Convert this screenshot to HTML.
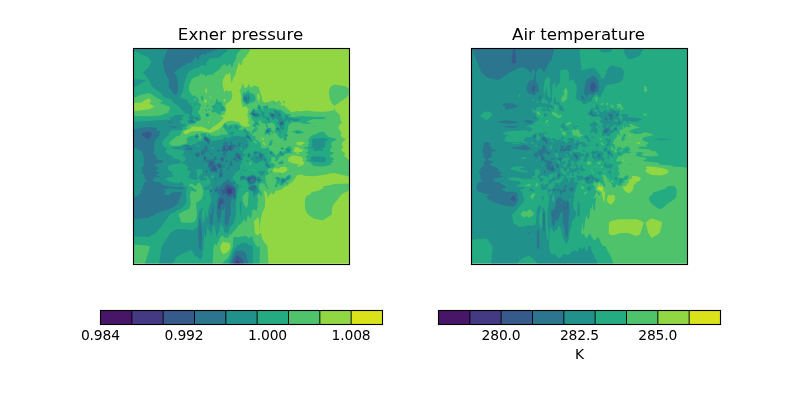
<!DOCTYPE html>
<html><head><meta charset="utf-8"><title>Exner pressure / Air temperature</title>
<style>html,body{margin:0;padding:0;background:#fff}svg{display:block}</style></head>
<body>
<svg width="800" height="400" viewBox="0 0 800 400" font-family="'DejaVu Sans', 'Liberation Sans', sans-serif" fill="#000">
<rect width="800" height="400" fill="#fff"/>
<g>
<rect x="133.5" y="48.5" width="216" height="216" fill="#443983"/>
<path fill="#375a8c" fill-rule="evenodd" d="M148.7 48.5l200.8 0 0 216-108.9 0-2.1-3.1-1-.8-1 .5-1.7 3.4-101.3 0 0-216zM227.4 188.5l-.2 1 0 1 .8 2.3 .5 .8 1 .7 1-.3 1-1.2 .3-1.3 .1-1-.4-1.4-1-.7-1 .4-1-.6-1 .2z"/>
<path fill="#2b758e" fill-rule="evenodd" d="M148.7 48.5l200.8 0 0 216-105.3 0-.7-2.2-2-4-3-2.2-1-.5-1 .5-1 1.6-1 1.8-2 5-99 0 0-216zM252.4 113.5l2 2 2 0-.9-.2-2-2-1 0zM271.4 114.5l.1 .8 1 .9 1-.6 0-.6-1 .1-.4-.6-.6-.1zM281.3 122.5l-.9 1 .1 1.1 .9-.1 1.2-1 0-1-1.1-.2zM145 132.5l-2.5 1-.7 1 .5 1 2.5 2 1.9 1 2 .3 .5-.3 .8-1 1.4-2 .5-1-.2-1-1.1-1-1.9-1zM247.2 136.5l.3 .1 .2-.1-.2-.1zM204.5 137.5l0 1.3 1 .5 .9 1.2 2.1 2.1 0-2.3-3-2.9zM225.3 143.5l.2 .2 .2-.2-.2-.2zM230.4 145.5l-1.9 1.8-.4 1.2 .4 .6 1-.2 1 .9 1 .2 .5-.5-.3-1-.9-1 .7-.7 1.2-.3-.2-.5-.5-.5-1.5-.1zM224.1 146.5l-.6 .6-.1 .4 .1 .4 .6 .6-.8 1-.2 1 1.7 0-.1-3 1-1-.2-.2-1 .1zM190.6 148.5l.5 .2 .2-.2-.2-.1zM205.4 148.5l.1 .1 .2-.1-.2-.2zM226.4 149.5l-.2 1 1.3 .1 .6-1.1-.6-.4-1 .3zM202.3 153.5l0 1 .2 .1 .2-1.1-.2-.2zM270.5 153.5l.2 0-.2-.5zM196.4 154.5l.1 .6 .5 .4 .5 .1 .1-.1 .2-1-1.3-.2zM236.4 154.5l-.1 1 .9 0 .3-.3 .2-.7-.2-.3-1 0zM260.5 155.5l-.1 1 .1 .2 .2-.2 0-1-.2 0zM204.4 156.5l0 3 .1 .1 .2-.1 .9-1-.1-.8-1-1.3zM238 156.5l-.5 .6-.1 .4 1.1 1.1 1-.9 .2-1.2-.2-.5-1 .3zM222.2 157.5l-.7 .7-.1 1.3 1.1 1.2 .2-2.2-.2-1.1zM209.7 161.5l-.2 .2-.2 2.8-.2 1 .4 .5 1-.4 1.8 1.9 0 1-1 1 0 1 .2 .1 1-.9 1 1 1 .1 1-.2 1 .3 0-2.1-1-1.6-.7-.7-.1-1-.2-.1-1 1-.9-.9-.1-.3-2 .1-.7-.8 .7-.7 1-.1 1 .2 1.2-.4-.3-1-.9-.2-1-.9-1 0zM218.4 163.5l-.2 2 .3 1-.1 1 2.1 .1 .1-.1-.1-2.2-2-1.9zM230.4 164.5l0 1 .3 0 .3-1-.5-.1zM206.4 171.5l.1 .1 .1-.1-.1-.1zM221.4 173.5l-.9 .6-.2 2.4 1.2 .1 .1-2.1-.1-1zM252.4 176.5l-.9 .9-2.3 .1-.7 .7-1.1 .3 0 1 1 1 0 1 1.1 1.1 .2-.1-.1-2 2.9-2.9 1 0 .8 .9 .2 1.2 1.1-.2-.8-1-.3-1.3-1 .2-1-1zM228.3 180.5l.2 .1 0-.3zM258.4 180.5l.1 .2 1.2-.2-1.2-.2zM253.2 181.5l.3 .2 1-.1 0-.3-1 .1zM227.2 184.5l-2.2 2-.8 3-.7 .7-1-.2-.5-.5-.5-.2-.4 .2 .1 1 1 1 0 1.3 .5 1.7 .8 .5 1-1.9 1 .2 1 1.7 1 1.2 1 .4 1 .2 1-.5 1-.8 1-1.7 .6 .7 .8 2.2 .6 .2 1-.1-.9-2.3 0-6-.1-.4-.8-.6-1.2-.2-2-1.5-2-.9-1-.7zM252.4 187.5l.4 0-.3 0zM251.2 188.5l.2 1 .4 0-.1-1-.2-.2zM216.2 189.5l-.7 .3-.1 .7 .1 .3 1-.3 1.2-1-.2-.3-1 .3zM219.4 189.5l-.1 1 .2 .5 .3-.5 0-1-.3-.1zM219.1 199.5l-.6 2.1-.6 6.4 .6 .7 1 .4 .5-1.1 .5-2.5 1-1.8 .9-.5 .1-.2 .1 .2 .9 .5 .2-.5-.2-4.3-1-.5-1 .2-1-.5-1 1.1zM226.4 208l.1 1.6 .1-1.6-.1-.8zM200.2 232.9l.3 1.7 .1-1.7-.1-.9z"/>
<path fill="#21918c" fill-rule="evenodd" d="M148.7 48.5l19.1 0-5 13.4 2.3 10.4 3.9 7.9-.5 6.1 3.1 4.7 3.2 3.7 1.4 .5 1.5-4.2 .6-4.7-.9-6.1-1.2-4.8-2-3.1 2-1.7 12.5-8.2 2.4 0 .9-.5 2.4-3.8 1.1-1.3 1 .3 1 2.3 1 .2 1-3.8 1-.8 2-.9 1-.1 1 .3 1 0 1-1.3 8-2.6 3-1.2 1.3-.7 130.7 0 0 216-101.2 0-1.8-9-1-2.8-1-1-2-.7-1-1.1-1 .7-1 .4-2-.5-1 .7-2 2.8-4.3 10.5-96.7 0 0-45.3 15.2-1.5 6.3-3.4 5.3-2.6 9-2.7 2.5-1 4.4-3.1 1.7-1.7 1.3-3.7 1.3-2.8-.2-2.2 1.2-1 .5-.7-.5-.5-5.3-.2-5.2 .7-1.7 2.6-6.1-.9 3-3-2.7-1 0-1 5.8-1.4 2 .4 10.2 .7 1.4-.7 1.3-1-2.7-.3-5.3 .2-6.8-.9-7.7-2-.7-1-.3-1-6.9-1-1.3-1 .9-1 .3-1 2.2-1 4.4-1-3.5-1-.8-1 2.8-1 .9-1-3.1-1-1.2-1 2.1-1 .6-1-.2-1-3.2-2 .6-1 1.2-1 6-1 .6-1-.7-1-5.8-1-.6-1 1.8-1-1.3-1-1.8-2-1.2-2-.2-1 1.6-1-.9-1-.3-1 .2-2-.1-1 .9-3-.4-1 .3-1 1.1-1 1.6-1 1.7-3 .4-1 .1-1 .3-1 .6-1-3.3-1-1.5-1 2.2-1-4.5-1-4.6-.4-5.1 .4-6.4 1-3.7 1 0-81zM244.1 97.4l.4 2.5 1 .1 1 1.7 .5-.5 .2-1.6-.5-2.2-.2-.1-1 0-1-.4zM248 97.4l-.1 2.2 .6 .5 .3-2.7-.3-1.1zM259.3 107.5l.2 .3 0-.7zM252.5 111.5l-.3 1-.5 1 .6 1 1.2 1.2 1 .5 1 .1 1-.2 1 0 .8-.6-.3-1-.5-.5-1 .1-2-.5-.7-1.1 .1-1-.4-.6-1 .6zM275.4 111.5l.6 1 .5 .4 .4-.4 .1-1-.5-.3-1 .3zM271.4 113.5l-1.3 1 .5 1 1 1 .9 1.6 2-2.4 1-.2-1-1-1-.6-1-.4-1-.1zM262.4 114.5l.1 .4 .3-.4-.3-.2zM277.9 114.5l.1 1 .5 .3 1.2-.3 .7-1-.9-.8-1 .1zM196.4 118.5l1.1 .2 .3-.2-.3-.3-1-.1zM267.3 118.5l.3 1 .9 .2 .2-.2-.2-.9-1-.3zM280.4 119.5l.1 .2 .2-.2-.2-.2zM285.6 119.5l.9 .1 .1-.1-.1-.2zM190.7 120.5l-1.1 1 1.3 1 .9 0 1.2-.4 1.1-.6-3-1.2zM281.3 120.5l-.3 1-.5 .5-.9 .5-.3 1 .9 2 .3 .3 1-.2 1-1 1-.6 .3-.5 0-1-1.3-1-1-1.2zM168.9 121.5l-1.5 1 7.5 0-5.6-1zM166 126.5l6.8 1 3.4 .1 .5-.1-.2-1-7.2-.2zM276.8 128.5l-.3 1.1 2 .3 .4-.4-.4-1-1-.5zM268.1 129.5l-.6 .6-.9 1.4 .9 1 1-.3 .6-.7-.1-2-.5-.1zM196.1 135.5l-.3 1 .7 1.4 1.1-1.4-.1-1-1-.3zM247.1 135.5l-.6 .2-.4 .8 .3 1 2.1 .4 .6 .6 .4 1 .1 0 .9-1-.5-1-1-1-.5-.8-1-.3zM286.2 135.5l.3 .1 .1-.1-.1-.3zM204 137.5l0 2 .5 .7 1 .6 1 1 1.2 .7 .8 1.7 1-.2 .4-.5-.4-.4-.3-.6 0-1 .3-2-3-2.3-1-.4-1 .2zM230.4 139.5l.2 0-.1-.1zM233.6 139.5l.9 .3 .4-.3-.4-.6zM231.3 141.5l-1.2 2-.1 1-.5 1-2-.6-.5-.4 .3-1-.2-1-.6-.5-1-.2-1 .9-1 .2-.7 .6 1 1 .1 1-.4 .2-1 0-.8 .8 1 2-1.4 1-.4 1 .8 1 .8 .5 1-.3 .2 .8-.4 1-1.3 1-.1 1 .6 .6 1-1 1 0 .6 .4-.2 2 .6 .7 .6-.7-.4-4 .4-1 .9-1 1.5-.8 2 .6 1-.2 1.7-1.6 .2-1-.2-1 .3-.2 1.1 .2-.2-1 .1-.2 1 .5 3-.2 1.4-1.1 0-1 .9-1 0-1-.3-.3-1 .5-1.4 1.8-.1 1-.5 .8-1-.2-2-1.8-2 .5-1.3-.3 .8-1 0-1-.2-1-.3-.2zM245.8 144.5l-.1 1 .8 .4 .9-.4-.9-1.8zM185.2 145.5l-.4 1 .8 .3 3.1 .6 .7-.9-.7-1-3.1-.1zM205 146.5l-.6 1-.4 1 1 1-.5 .5-3 0-.6 .5 1.1 1-.9 1-.4 1 0 1 .8 .7 1 .1 1.9-1.8 .1-.7 1-.1 .2-.2 .4-1-.7-1 1.1-.5 .7 .5-.1 1 .4 .4 1 .5 .6-.9-.6-.8-.6-.2-.4-.6-.2-.4 .1-2-.9-1.7-1-.2zM189 147.5l-3.1 1-.8 1 3.6 .8 2.4-.1 1.2-.7 .5-1-1.1-1-.6-.3zM217.3 149.5l0 1 .5 1 .7 .6 .7-.6 .5-1-.1-1-1.1-.3-1 .1zM287.8 150.5l.8 .4 .3-.4-.3-.3zM254.7 152.5l-.3 1 1.1 .1 1.8-1.1-.8-.5-1-.3zM269.9 152.5l.2 1 .4 .6 1.4-.6-1.4-1.6zM195.7 153.5l-.8 1 .6 .5 .7 1.5 .3 .3 1 .5 1-.3 .8-.5-.2-1 1-1 .2-1-.8-.8-1 0-1 .2-1-.2zM209.9 153.5l.6 .9 1-.1 .2-.8-.2-.6-1-.3zM235.6 153.5l-.5 1 0 1 .4 1.9 1-.5 .1 .6 .9 1 1 1.6 1 .3 1-.5 1-.2 .2-.2 0-1-1.1-1 .5-2-.6-.5-1.1-.5-.2-1-.7-.5-2 0zM259.7 153.5l-.2 .1-.3 .9 .4 3 1.9 1.9 .7-.9-.4-1 .4-1 .9-1-.3-1-1.3-.4-.9-.6-.1-.3zM248.3 154.5l0 2 .2 .2 1-.5 .3-.7 0-1-.3-.4-1 0zM281.4 154.5l.1 .2 .4-.2-.4-.4zM192.4 155.5l.6 .3 .4-.3-.4-.4zM203.5 156.5l0 3-.5 1 .5 .5 1 .1 1.8-1.6 .7-1-.5-.6-.4-1.4-.6-.6-1-.2zM214.1 156.5l.4 1-1 1.2-2 1.2-.5-.4-.5-1.1-1 1.7-1-1-1.9 1.4-.8 1 .3 1 .4 .4 1-.7 1-.2 .2 .5-.1 1-.8 1 .1 1 .6 1.4 .3 1.6 1.1 1 0 1 1.6 1.4 1-.4 1 .7 2-.3 1 1.2 1.2-1.6-.3-2 .1-.5 1-.2 1-.4 .3 .1 .6 1-.6 1 .2 1-.7 1-.2 1-.1 3 .5 1.3 1 .2 .4-.5 1.5-1 .8-2-.1-1-1.5-1 .4-2 0-1-.4-1 .9-1.5 2 .5 .3-1-.3-.4-1-.2-.7-.4-1.3-1.7-1.3-.3-.7-.8-.6-.2-.4-.6-2 2.5-1-.5-.3-.4 .1-2-1-1 .2-.2 1 .1 1.7-1.9-1.2-1-1.5-1.7zM263.3 156.5l.2 .1 0-.3zM220.7 157.5l-.2 .9-.9 1.1 2.9 2.9 1-.8 4 .5 .3-.6 0-1-.3-.6-1 .5-1 0-1 1-.9-.9 0-1 .7-1-.4-1-1.4-.8-1 0zM234.5 157.5l-1.1 1-.7 1 .8 .7 1-.1 1 .3 2 1.7 1.1-.6-1.3-1-1-2-.8-1-1 0zM256.3 157.5l-.2 1 .4 .6 1.4-1.6-.4-.2-1 .1zM263.2 159.5l1.1 0-.8-.1zM264.6 159.5l.5 1 .4 .2 .2-.2 0-1-.2-.4zM229.6 161.5l.2 1 .4 1-1.1 1 .2 1 1.2 .9 1-.4 .6-.5 .5-2-.6-2-.5-.5-1-.3zM225 163.5l.5 .4 .7-.4-.7-.8zM266 164.5l1.1 1 .4 .9 1 .4 0-.9-1-1.6-1-.4zM227.9 167.5l-.4 .6-1 .9-.2 .5 1.3 1 .3-1 .9-1 .5-1-.8-.5zM206.4 170.5l-.7 1 .4 1 .1 1 .3 .3 .4-.3-.1-1 1.3-1-.6-.9-1-.2zM262.5 172.5l1 .3 .4-.3-.4-.3-1 .3zM251.9 175.5l-1 1-1.4 .2-1-.1-2.6 1.9 .6 .5 2 3.6 1 1.1 1 .3 2-.1 2-1.2 .9-1.2 .3-1 .8-.9 1 .5 .7 1.4 .3 1.1 .8-1.1 1.6-1-.4-1-1-.1-1-.6-1-.1-1 .2-.4-1.4-.8-1-.8-.5-1-.2-1-.6zM242 176.5l-.7 1 0 1 .2 .3 1 .2 2.4-.5 0-1-1.4-1-1-.2zM215.1 178.5l.1 1 .3 .3 1.3-1.3-1.3-.9zM227.2 179.5l-.6 1-.1 .7-2.6 1.3-1.4 1-.5 1-1.1 1-.5 1-1.3 1-.1 1-.5 .4-.2-.4 0-1-.3-1-.5-.4-1.3 1.4-.1 1-.6 .4-1 .2-.5 .4 .2 1 .4 1-.2 1.3 .1 .3 .3-.3 1.7-.7 1-.9 .4 .3-.6 1.3 .2 .4 1 1 1 .1 .1 .2-.2 2.2-.9 .6-1 2.2-.2 3.7-.5 4.8 0 6.3 .7 4.3 1 4.4 1-1.4 1-5.9 .7-1.4 .3-2.4 1-3.7 1 2.1 .4-2.3 .6-1.7 .6 1.7-.6 14.4 2 4.2 1-2.1 1-1 .3-1.1 .7-6.1 1-.9 .2-1.1-.3-11.1 .1-1.3 .8-2.4 1.2-1.6 1 .7 1 1.4 1-.7 .6-2.6-.4-2.2 .3-3-.1-3-.6-1-.8-.9-.4-.1-1.3-2 1.7-.5 .2-.5-.5-1-.7-.6-.7 .6-.3 1.8-1-1.3-2-1.2-.2-.3 0-1-.3-1-.5-.5-1 .2zM282.5 179.5l-.7 1 .4 2 .4 0 .6-1 1-1-.1-1-.6-.3-1 .3zM250.3 185.5l-.1 1-.9 1-.1 1 .3 .8 2 1.1 1 .3 .6-.2 .4-1.3 .5 .3-.2 1 .7 1.9 .9-1.9-.9-1 1-1 1 .1-.2-1.1-1.4-2-.4-.2-3 1.2-1-1.2zM210.5 189.5l-.5 1 .2 1 .3 .6 1-.2 .6-1.4-.6-.8-1-.2zM212.4 203.2l0 4.8-.8 6.3-.1 .5-.1-.5-.9-2-.4 2-.5 8.1 .9 2.2 1 1.6 1.1-3.8 1.1-14.4-1.2-6zM199.1 222.4l-.9 10.5 .7 13.8 .6 2.3 1 1.1 1-2.5 .1-.9 .5-13.8-1.6-11.7-1-3.8zM216.4 222.4l.1 .9 .2-.9-.2-2.5zM226.5 147.1l.4 .4-.4 .7-.4-.7zM136.4 148.5l2.2 1 3 2 .8 1 .6 2 .5 3 1.2 2-1.2 3 .6 2-.2 1-.9 1-.5 1-1 1 .3 1 1 1-1.3 2 .9 1 1.4 1 1.3 3-.3 1 .3 1 1.5 1-.5 1-2.1 1-.1 2-1.4 1 .7 1-.7 1-.1 2-1.7 2 .5 1.3-1.4 1.7-6.3 2.9 0-49.9zM225.5 151.4l.3 .1-.3 .2-.8-.2zM216.5 166.4l1.1 .1-.4 1-.7 .3-.3-.3 .2-1zM221.5 166.1l.4 .4-.4 .3-.1-.3zM252.5 179l.6 .5 0 1-1.6 .9-.5-.9 1.1-1z"/>
<path fill="#25ab82" fill-rule="evenodd" d="M148.7 57.4l2.6 4.5-2.6 5.2-5.8 5.2 6.2 7.9 2.5 6.1 6.4 4.7 2.3 1.5 1.8 2.2 2.8 2.7 4.4 1.7 1.9 .5 3.3 3.9 3.8 2 1 1 1 2 1.3 1 .7 1 1.2 1 .2 1 1.9 1.2 3.1 .4 .9 .4-.3 1 0 1-1.6 1 1 .6 1.3 1.4-2.7 1 0 1 1.4 1.2 2.4 .7 1.9-.1 1.4-.4 .6-.4 .2-1-.8-.9-1.5-1.1 1.1-1 .4-.6 2.1 2.3 1 .3 1-.7 1-.2 .7-1.1-1.7-.6-1-1.4-1-.3-1 1-1.1-.1-.7-.6-.7-1-1.2-1 .4-3 .5-1-.1-3-.4-1-1.1-1.3-2.2-1.7-.8-1-1.5-2.9-1-.6-4.1-.6-.9-1 .3-2.7 2.1-3.7 .8-4.7 1.8-7.9 2.4-6.1 3.1-2 4.4-2.3 1-.1 1 .3 1-.1 2-2.4 1-.6 2-.4 1 .6 1 2.3 1.1-5.7 1.9-2 2-1.6 3 0 5-.9 1 .6 1-1.5 4-3.7 1 0 1-1 1.7-3.3 121.3 0 0 216-96.7 0-.1-17.8-.2-.7-1-.3-1-1.3-1 1.3-2-2.1-2-1.4-3 .9-1-.4-2 2-2 .1-3 3.6-2 4.5-3 7.8-1.8 3.8-55.8 0 4.3-7.1 5.3-3.3 9.6-4.2 1.9 2.2 1.4 3.5 1.1 1.2 1-.7 1 .3 2 2.9 1 .4 1-1 1-4.3 1-7.7 1-14.9 1 7 1-3.8 1-10.3 1 5.2 1 2 1 .9 1 3.6 .4-3.5 .6-2.7 1-3.9 1-1.8 2 12.9 1-3.7 1-.5 1-3.6 1-6 2 2.7 1 1.8 1 4.9 1-.9 1 1.2 1 .2 .5-.6 .5-1 1-4.2 2-2.2 2.4-3.1 2.4-8.1-.4-11.1 1.1-6.5-.1-2.2 1.4-3-.3-1 0-1 .9-1 .4-2-.2-1-.6-.9-1-.4-1-1.1-.6-1.6-1.4-1-.9-1-1.3-2 1.2-1.7 1-.3-.2-1 1.2-1.5 2-1.8 2-1.1 .6-.6 .2-2-.7-1 .8-1 .1-1 1-1.7 .1-1.3 .3-1 .9-1-.2-1 .2-2 .7 0 1-.5 1.5-1.5-.5-.6-1 .1-.7 .5-.4 0 0-1-.5-1 .4-1 .9-1 4.2-4 .3-3-.7-2-1.6-3 1.4 0 .7 .7 .3 1.3 1.7 1.6 1-.5 .3-1.1-.7-1-.2-2-1.4-1.4-1-1.3-1-.3-1 .1-.9 .9-.1 1.5-3-.5-1 .5-2-.9-1-.1-1-.4-1 0-1 .5-2 .4-.4-1-.6-.5-.7 .5-.3 1.4-1 .1-1.1 .5-.9 1.3-1-1.2-1 .4-.5-.5-1.5-.6-1 .6 0 1.4-4 .8-9 1.3 0-.8 .8-1.7-.8-.4-1 .3-5-2.9 .8-1-.8-.3-.4 .3 .3 1-.2 1-.9 1-.2 2 .6 1-.2 .8-4 .2-3 1.1-1 1.6-2.5-.2-1.9 1.4-2.4-.6-3.1-.2-2.6 .9-1.5 .9-9.6 1.1-.8 1 5.1 .8 5.3 .5 1.6 .7 1.6 1-.8 1-.2 1-.9 1-.4 1 3.2 1.9 .4 1.1-.4 .7-.9 .3 .7 1-3.6 2 .3 1 3.7 1 0 1 3.2 1-.7 1-1.5 1 .6 1 3 2 .4 1-.9 1-1.2 1 1.3 1-1.3 .8-.6 .2 .8 1 1.3 1 3.8 1 3.5 .2 .2-.2 .1-1-.3-.6-.5-.4-.4-1 .4-2-.5-3-1.1-2 1.1 0 1 .2 1-.8 2 0 1 .2 .5 .4 .3 3-.1 1-.7 .7-1 .3-1.5 2-.2 1 1.1 1 0 1 .6 1 4 0 2-.3 .3-.7-.1-1-.2-.5-1-.4-2 .3-.4-.4 .4-.6 1-.8 1 .2 1 .5 1-.8 .5 .5 .2 1 .3 .5 1.8 1.5 .2 3 .6 1 .2 1-.8 .6-1-.6-2 .9-1 0-1 1-1.7 1.1 0 1 .7 .9 1 0 2 .5 1-.5 1.8-1.9 0-1 .2-.7 1 .7 .2 2-1.2 .1-.9 .9-.2 1 .7 4 1.4 4.7 0 1.1-1 3.1-1 2.3-1 3.4-1 8.1-1 1.5-1-8.5-1 11-2 1.5-.9-8.4 1-6.3-.1-.2-1-.5-.4 .7-.6 2.6-1-1.2-.9 4.9-1.1 11.3-1 2.3-1 .3-1.1 1.4-1.4 .7-7.4-1.1-4.1-.2-5.3 .5-5.9 3.4-1 1.9-7.8 11.9-2.4 17.8-25.6 0 0-27.9 15.2 .4 7.1-4.1 4.5-5.5 9-12 .5-1.1 12.3-6.3 3.5-4.4 .2-.4 .8-3.7-.7-6.7 .6-2.3-.8-1 2.3-2-2.4-.9-1.2-.1-1.9-1 1.3-1-.6-1-1-1-.7-.4-1 .4-4.3 .4-6.9-1.4-1.7-1-2.2-2 3.9-1.3 4.4-.7 .2-1-2.6-1 1.5-1-.6-1-1.5-1-.8-1-2.2-1-.2-1 .7-1-.7-1 1.8-1.3 2.4-.7 7.9-1 1.8-2-1.3-1-.8-1-7-1 .5-1 .1-1-3.6-1.4-3.4-2.6-.8-1 1.8-2-.3-1-1.3-1-2.2-1-.7-3 .2-1-.5-1 2.8-3 1.5-2 2.8-1-.8-1 .3-1 1.2-2 1.3-1 10.3-.7 .6-.3 .4-1-.3-1 1.2-1 2.2-1 0-1-4.1-.4-2.1-3.6 2.1-.3 1.6-.7-.1-1-2.4-1 3.1-1 1.1-1-3.3-.7-5.3 .3-3.1 .4 1.1 1-5.6 1 2.6 1-1.9 .9-9 .5-11.6 1-10.6 .6-4.6 .5 0-35.1 2.6-.6 10-6.1-12.6-1.3 0-28.2zM246.4 94.7l-.9 .9-2 .1-.2 1.7 .2 2.9 .5 .9 .5 .5 1 .4 1 1.3 1-.2 1-.7 .5-1.3 .5-2.3 .7-1.5-.8-2.7-.9-1.5-1 1.6-1-.3zM251 99.6l.5 .7 .5-.7-.5-1zM216.4 101.2l.1 2.3 1 .5 1-.1 .8-.4-1.8-.6-.7-.4 0-1.3-.3-.3zM195.7 103.5l.8 .3 .8-.3-.8-.3zM194.1 104.5l1.4 1.2 .3-1.2-.3-.8-1.1 .7zM199.2 104.5l.3 1.4 .2-.4-.2-1.1zM219.7 104.5l.8 .3 .4-.3-.4-.8zM214 106.5l-.5 1 1 .8 .8-.8 .4-1-1.2-.2zM221.2 106.5l0 1 1.2 1-.4 1 .5 .8 1-.3 .4-.5-.4-.6-.6-.4 .5-1-.9-1.3-1 0zM258.2 106.5l0 1 1.2 2 1.1 .5 .4-.5-.6-1 .1-1-.4-1-.5-.6-1-.4zM263.8 106.5l.4 1 .3 1.3 .8-1.3-.8-1.1zM265.6 107.5l.9 .6 1-.3 .2-.3-.2-.9-1 .1zM218.4 108.5l.1 .3 0-.3zM216.4 109.5l.2 0-.1-.4zM253.4 109.5l-.4 1-1.1 1-.4 1.1-1 .9 .7 1 1.3 .7 2 2.1 1 .1 2 0 1-.9 1 0 .9-1-.2-1-1.7-1.5-1-.5-1-.1-1 .5-1-.3 0-.5 .4-.6-.1-1-.9-1-.4-.1zM273 109.5l.3 1 2.3 3-.1 .1-1 0-1-.6-1-.3-2-.1-1-.5-.8 .4 1.1 1-.8 1 .4 1 0 1 1.1 .4 1.5 2.6 .5 .4 2-.6 1-.8 0-.4 1.2 .4 1.2 1 .6 1 .2 1-1.2 .4-.5 .6 .5 1.5 1 .1 .2 .4-.2 1.2 1 .4 .3 .4 1.7 3.8 1-.2 1.3-1.6 .3-1 0-1 .3-3 .7-2 .4-.5 1-.1 1-1.1 .7 .7 .3 1 1.5 1 .3-2 1.6-.8 .8 .8 1.6 .9 3.1-.4 1.6-.5 1.9-1-3.5-.9-3.1 .5-2.4-1.2-1.9-.5-1.4 .7-.7-.6 .1-1-.5-.8-1-.5-1-.2-1 .5 .1 1 1 1-.1 .4-1 1.2-.8 .4-.2 .4-.4-1.4-1.1-1-.4-1-.2-2-1.2-2 .2-1-.9-.2-.7 .2-.3 .5-.3-.5-1.7-.7-1.5-.3-1.5-1.1zM266.1 110.5l.4 .8 .3-.8-.3-.2zM260.2 111.5l.3 .4 1.2 .6 .2 1-.9 1 1.2 2 1.3 1.2 1 .1 2 1.2 1 1.3 .9 .2-.4 1 .5 .7 1-.1 .4-.6-.6-3-.8-1.5-1-.4-1 1-1-.8-1-.3-.5-1 .7-2-.2-.4-3-2.1-1 .2zM265.2 112.5l.3 .2 1-.2-1-.3zM206.1 114.5l.4 1.2 1 .2 1-.4-.4-1-.6-.5-1 0zM255.3 122.5l-.1 1 .2 1-1 1 .1 .1 1 .1 .2-1.2 1.8-.5 .4-.5-1.4-.8-1-.4zM264.9 122.5l1.6 .5 .5-.5-.5-.6-1 .3zM224 125.5l.5 .5 1 .5 .4-1-.4-.9-1 .6zM236.2 125.5l-1.1 1-.2 1 .6 .8 2 1.5 .4-.3 .2-1-1.6-3.2zM230.1 126.5l-1.2 1 .4 1-.3 1 .5 .3 2.3-2.3-.1-1-1.2-.2zM237.9 126.5l.6 .4 1-.2 .3-.2-1.3-.3zM225.2 127.5l1.2 1 .1 1.1 1 .2 .6-.3-1.4-1 .4-1-.6-.7-1-.1zM277.2 127.5l-.7 .5-.4 .5-.2 1 .6 .7 1.3 .3 .7 .4 .5 .6 .5 1.2 1 .2 .6-.4 0-1-.6-.5-.5-1.5-.5-.3-.3-1.7-.7-.7-1 .4zM267.9 128.5l-.4 .1-1.4 1.9-.7 2 .1 .3 2 .3 1-.1 1.6-1.5 .6-2-.2-1-1 .1-1-.2zM228.1 130.5l.4 .2 .4-.2-.4-.6zM244.3 130.5l-.7 1 .9 .8 1-.3 .5 .5 .5 1 1 1 1-.7 .2-.3-.6-1-1.6-1.1-1-1.6-1 .4zM296.3 131.5l-.3 1 1.4 .4 2.9-.4-2.9-1.3zM230 132.5l-.4 1 .2 1 .7 .6 1-1.1 1 .2 1-.3 .3-.4 .2-1-.5-.7-2 .6-1-.8zM243.6 133.5l.9 .3 .2-.3-.2-.5zM201.3 134.5l.2 .3 .9-.3-.9-.4zM286.1 134.5l-.9 1-.1 1 .4 .6 1-.8 .7-.8-.3-1-.4-.4zM195.6 135.5l-.6 1 .3 1 .6 1 .6 .5 .5-.5 .8-1 .2-1 0-1-.5-.6-1-.2zM202.2 135.5l.3 .3 .6-.3-.6-.8zM284.6 138.5l.6 1 .6 0 0-1-.3-.6zM316.8 138.5l-3.1 .3-1.7 .7 .3 1 0 1 .3 1-.4 1-.1 2 .1 1-2.5 1 3.5 1 .5 .7 2.2 .3-2.2 .2-.5 .8 .5 .2 9-.2 .6-1-.6-.6-4-.4 4-.3 2.6-1.7-.7-1 .9-1-.5-3 1.5-1 2.5-1-2.8-1-3.5-.6zM190.1 139.5l1 .3 .8-.3-.8-.8zM194 139.5l.4 .5 .2-.5-.2-.4zM197.3 140.5l.2 .4 .2-.4-.2-.1zM271.4 141.5l.1 .3 0-.6zM270.4 142.5l-.4 2 .5 .4 .3-.4 .3-2-.6-.3zM267.1 148.5l.4 .3 0-.4zM281.3 148.5l.2 .3 1 0 .2-.3-.2-.5-1 .2zM285.8 149.5l.9 1 .1 1-.3 1 1-.3 1.1 0 .9-.7 .4-1 0-1-2.4-1-1 .2zM254.2 151.5l-1.5 2 .8 .9 1.1 .1-1 1-.1 .4-2.2 1.6-1.4 2 1.6 .3 1 .8 1.8 1.9 .2 1.1 2 0 1-.3 .3-.8 .7-.6 3-.6 .7-.8 .3-.1 .4 .1 .6 .5 1.5 .5 .5 1 .1 1-1.1 1 1 .6 .4 .4 0 1 .6 .8 2 .6 1 0 .6-.4-.1-1 .5-1-1-.5-1-.2-.2-.3-.2-2-.6-.5-1-.1-.4-.4 .4-.4 .4-.6-.2-2-1.3-1-1.2-2-.1-1 1-1-.6-.4-1 .8-1-.1-.7-.3-.6-1-1.7-1.3-1 .5-1-.2-1-.6-1-.2-1 .6zM269.9 151.5l-.7 1 1.3 2.2 .4-.2 1.6-.3 .3-.7-.2-1-1.1-.4-1-1.1zM280.5 151.5l-.7 1 .7 2 .7 1 .3 .1 1-.4 .6-.7-1-2-1.6-1zM247.7 153.5l-.2 2.4-.7 .6 1.7 1.6 2-1.6 .8-1-.4-1-.4-.3-.3-.7-.7-.7-1-.1zM272.9 154.5l.3 1 .3 .3 1 .1 .2-.4-.2-.4-1-.8zM278 155.5l.5 .7 .3-.7-.3-.4zM270.3 156.5l.2 .3 0-.5zM312.8 156.5l-2.1 1 .5 1 0 1-1.8 1 4.3 1.3 9 .8 3.2-1.1-.4-1 1-1-1.3-2-2.5-.7-9-.5zM269.7 158.5l.8 1 .2-1-.2-.5zM246.4 160.5l1.1 .8 .9-.8-.9-.8-1 .7zM280.5 162.5l.4 1 .9 0 .3-1-.6-.5zM272.9 165.5l.6 .7 .2-.7-.2-.6zM243 166.5l.5 .6 .4-.6-.4-.5zM242.1 168.5l-.1 1 .5 .5 .4-.5 .2-1-.6-.4zM245.1 169.5l-.6 .2-.9 .8 .9 .7 1-.1 .9-.6-.9-1.2zM258.5 171.5l-.5 1 1.6 1 .9 1.5 .7 .5 1.3 .1 .5-1.1 .5-.6 1-.5 .5-.9-.5-.9-1-.7-3 .3-1-.1zM240.4 172.5l-.4 1 .5 .4 1 0 .3-.4-1.3-1.1zM252 174.5l-1.5 1.1-1 .2-1 0-1 .7-1 .3-1 0-1-.9-1-.5-3 .6-.6 .5 .2 1-.3 2 .2 1 .5 .4 2-1.4 1.3 0 .7 .7 1 .3 1-.1 .5 2.1 .5 .3 .4 .7 .2 1 .4 .4 .3 .6 .1 1-.9 1 .5 1-.3 1 1.3 1.1 2 .4 1 .5 .2 1.3 .8 1.7 .1 2.2 .9 1.1 .8-3.3 1.2-.3 2.8-3.7-1.4-1-.6-3-.8-.5-1-1.2-2-.3 1-.4 .9-.6 .1-1 1-2 1 .7 .2 1.3 .8 .7 1.7-1.7 1.6-1 .3-1-.6-.5-1-.2-.7-.3 .6-1-.4-1-.5-.3-.7 .3-.9 1-.4 .1-4-3.2-1-.2zM238.1 175.5l.4 .4 .5-.4-.5-.4zM288 176.5l-.5 1-1 .3-1 1-1 .1-2-.5-.5 .1-.9 2-.2 2 .5 1 .1 1.1 2-1.5 .2-.6 .8-.7 1 0 .6-1.3 .4-.3 1-.5 1.1-.3 .7-.9 .1-2-.8-.3zM277.4 177.5l-.1 1 .7 2 .5 .7 .7-.7 .4-1-.3-1-.8-1-1-.1zM203.4 185.5l.1 .2 .3-.2-.3-.6zM240.3 185.5l-.4 1 .5 1 1.2-1-1.1-1.2zM276.2 186.5l.3 .2 .2-.2-.2-.9zM191.8 189.5l1.2 .8 1-.8-1-.5zM204.4 196.7l.1 3.5 .8-3.5-.8-.4zM239.6 203.2l.1 4.8 .4 6.3 .4 1.4 .4-1.4 .6-6.3-.2-4.8-.8-2.9zM276.5 114.4l0 .3-.1-.2zM226.5 138.9l.6 .6-.6 .5-.4-.5zM196.5 145l2-.2 1.2 1.7-.2 .5-1 .2-1-1-1.2-.7zM241.5 146.3l.6 3.2-.6 .6-1 .1-.4-.7 1.1-2 .2-1zM211.5 147.4l1-.6 1 1 .4 .7-.4 .6-1-.2-.7-.4-.4-1zM211.5 149.1l.2 .4-.2 .2-.3-.2zM236.5 150.3l.4 .2-.3 1-.2 0-.1-1zM256.5 154.2l1 0 .9 1.3-.9 .5-1-.9-.3-.6zM218.5 155.3l.1 .2-.1 .1-.1-.1zM204.5 164.7l.3 .8-.3 .4-.4-.4zM211.5 175.3l1-.5 1 .3 .4 .4 .1 2-.5 .6-1 .4-1 .1-.2-.1-.3-1 .2-2zM219.5 181.5l.2 0-.3 0zM176.2 185.3l1.1 .2-1.1 .2-.5-.2zM207.5 185.6l1 .1 .4 .8-1.4 .4-.9-.4zM211.5 194l.5 .5-.5 .2-.2-.2z"/>
<path fill="#4ec36b" fill-rule="evenodd" d="M134.1 61.9l-.6 .6 0-.9zM235.5 59.8l1-5 2-2.8 2-1.9 1-1.6 108 0 0 216-90 0 .4-17.8-.4-.6-1-.1-.6 .7-.4 2.8-.4-2.8-1.6-1.9-1-1.7-1-2.5-1-4.9-1 1.7-1-.9-1 1.8-3-1.8-1-.9-1 .7-2 .1-1-.2-2 1.1-2-.4-2 0-1-.5-1 .7-.8 9.6-3.2 8.4-2 3.4-3 2.8-2 2.3-.5 .9-9.4 0 .9-17.8 1-3.3 1 .8 1 1.9 1-3 1-1.3 1-3.3 1-1.8 1-.7 1-.3 1 .5 1 1.5 1-.5 1 .6 1 .3 1-.5 1-2.5 1-.2 1-.4 .6-1.6 2.4-2.2 3-3.4 1-3 1 .9 1-.7 2-3.1 2-2.3 1 3.2 1-1.7 1-4.4 1-1 1 2.1 1 1.5 1-2.5 1-6.9 1 .5 1-.8 2 2.3 .8-3.4 .1-4.8 .9-3.7-.8-2.2-.4-.6 .4-1.8 .2-.4 .8-.5 1-1.2 .4 1.7 .6 1.2 1-.4 .4-.8 0-1.7-1.4-2.3-1.2-1-.3-1-.1-1 .6-1-.5-1 .3-1 2.2-1.8 1 .8 1-.2 1 0 .4 2.2 1.1 1 1.3 2 1.2 .7 .4-.7-1.9-2 .2-1-.9-2-.1-1-.6-1 .2-1-.8-1 .5-1 0-1-.6-1 1.6-1.6 1-.1 .6-.3 1-1-.6-1.4-.7-.6 0-2 .6-1 1.1 .3 1-.7 2 .3 .6-.9 1.2-1 .8-2-.6-.5-1-.1-1-1.1-2 0-.2-.3 1.1-2-.1-3 .2-.4 2-.1 1.2 .5 1.1 1-1 2 .7 .7 1 0 1.9-1.7 .1-.5 .5-.5 .5-1.6 .4-.4 2.6-.2 1-.3 2-1.9 2-.9 2.5 .1 1.9-.4 .5-.4-1.2-1 .1-1 1-1-.4-.8-1.9-2.5-1.4 0-.6 .3-.8 1-.7 .3-1 .7-.7 1 .3 1-.6 .7-1 0-1 .5-2-1.3-2 2.6-1.8 1.5-.2 .9-1 0-.2-.9-1.4-1-1.4-2.3-1-.1-1-1.2-1.1 .6-.3-1 .1-1-.7-1.3-1-.2-2 1.4-1-.1-.6 .2-.4 .4-1-1.4-1 .6-.7-.6 .2-2-.5-2.8-1-.4-.9-.8-.1-.4-3-1.6-1-1 1-.2 .6-.8-1.6-1.3-1-.5-1-.2-1.3-2-.7-.7-.5-1.3-.5-.3-1 .4-1.5-1.1-.6-1-.9-.9-1-.3-1.2 .2-.3 1-.5 .6-1-.3-1 .3-1-.3-.3-1.3 .3-.3 1-.1 .4-.6 .1-1-.5-.6-1-.5-1-.1-1-.9-1-.3-5 .3-1 .2-1 .6-1.5 .3-.5 .7-.7-1.7-1.3-1.4-2.4 2.4 0 2 2 2 1 2 1.1 1 .3 1.1-.3 .9-.7 .6-1-.8-1 0-1 .2-1-.2-2 1-2 .5-2 .2-.5 .5-.5 .1-1-1-4-.1-.4-1-.6-.7-1-.4-.2 .1 .1 1-.9 1-1 0 .6-1 .1-1-.7-.8-1 .5-2 0-1-.1-1-.5-.8 .9-.4 1 .7 2 .1 1-.6 1.6-.5 .4-.5 .2-.2-.2-.4-1 .2-1 .4-.8 .4-.2-.4-.4-1-.2 0-.9 .2-.5 0-1-.2-.1-1 .4-1 0-2.1 1.7 0 .2-1.4-.1-4.3 1.1-1.3 .8-1.1 2 1 1-.4 2-.5 1-4.1 1-.8 .4-5.3 1-4.8-.4-1.6-1-.5-.7-.2-.3 .2-1.1 6.9-5.8 3.9-1.1 .4-1 .9-1 .2-2 1.1-1 2.7-1 2.1-1-1.6-1 1.6-1 .6-1 .6-.5 1.4-.5 2.9-.3 2.5-.7 .8-1 .2-1.1 1 .2 1-.5 1-.1 1.4-1.5 .4-1-.8-.9-.5-.1 .9-1-1.2-2-1-1-.5-1-.2-1 .5-.9 .4-.1 1.2-1-.3-2 1.4-2-.2-1-.9-1-1.4-1-.2-3.1-1.2-2-2.9-2-1.4 .7-1.4-1.4-.5-1.1-2.1-2.6 0-4.7 2.1-6.4 1.9-1.8 6.5-2.7 1-1.5 1-.3 1 1.1 2 .1 1 1.8 1-.3 1-1.5 1 .1 3-.7 1 .8 1-1.4 2.2-1.3 1.8-1.9 2-.9 2-3 3-2.7 1 1.6 1 .1 1 .5 1-1.2 1-.3 1-.7 1 3.5 1-.2 1-4.6 1-.3 .2-.3zM247.2 91l-.7 .4-1 1.6-1 .3-1-1.9-.8 3.3 .2 6.5 1.9 2.3-.1 1 .8 .3 1-.5 1 .2 3-1.7 1 0 2-.9 1-.7 1-1.1 .3-.5-.4-2.2-.9-2.7-2-1.1-2-.5-1-.9-.6-1.2-.4-1.4-1 1.3zM200.7 97.4l.8 2 1 1.3 .6-1.1 .1-2.2-.7-1.8-1 0zM216.2 99.6l-.7 3.5-1 1-.9 1.4-1.1-.4-.5 .4-.3 1 .1 1 .7 .9 .3 .1 0 1-.3 .4-1.7 .6 1.7 1.7 .8 .3 .2 .4 .1-.4 .9-.6 1 .1 .7 .5 1.3 1.5 1-.1 1 .9 1-.3 0-1 .9-1 .3-1 2.8-.5 .6-.5 0-1-.4-2-1.2-1-1.4-2-.2-2-.4-.9-3 .1-1-2.4-1-.4zM211.3 101.2l0 1.3 .2 .3 .3-.3 .3-1.3-.6-.2zM272.6 102.5l.9 .4 .3 .6 .7 .3 .5-.3-.5-.7-1-.5zM258.4 104.5l-.5 1-.4 1.7-1.1 1.3 .1 .2 1.2 .8-.2 .5-1 .1-1-.4-1-1.4-1 .3-2.3 2.9-.4 1-1.3 1 0 1.1 1 .7 .6 .2 .5 2-.1 1 1.1 1 1.4 2 .4 1-.3 1-.6 .7-1-.1-.2 .4 .2 .8 1 1.8 1-.2 .8 .6-.5 1-1.3 .5-.4 .5-1.1 2-.4 1 .9 .9 1 .1 .4-1 .6-.9 1 .4 1-.1 .5-.4-.8-1 .2-1 .1-.2 1-.1 .5-.7-1.5-1.4-.3-.6 .3-.9 1-.1 1 .5 1.3-1.5-1.2-2 0-1 .9-1.2 1 0 .7 1.2 .3 1.6 3.2 .4 .8 .4 .3 .6 0 2 .7 .7 .7 .3-.7 1.2-1.2 .8-.4 1-.1 2-.3 1 .1 1 .9 .9 1-1.1 1-.5 2 1.6 1.4-.9-.7-1 .1-1 .2-.2 1-.2 .5 .4-.6 1 1.1 .2 .2-.2 .2-1 .6-1 2 1.4 1 .1 .7 1.5 .8 1 .2 1 1.3 1.3 1 .6 1 .2 1 0 1-.5 .2 1.4-.3 1 1.1 .5 1-.6 1-.3 .6-.6-.1-1-.7-1 1.9-2-1.2-2 .6-3 .7-5 3.6-3 2.4-.3 7.1 .3-.1 1 .2 .1 5.3 .3 5.2-.4-3.9-1-1.7-1 7.3-2.4 9 .1 2.8-.7 .2-1-3-.5-15.9-.5-5.3-.5-7.2 .9-2.4 0-1.9-.3-.2-.1 .1-1 .8-1-.7-.4-1.4-.2-1.1 .1-2-.5-2.1-2-2.9-1.8-1 .1-6-1.5-2 .1-1-.4-1 .6-1 0-.2-.1 .3-2-1.1-1.1-1-.2-1 .7-1-.1-1 .1-1.1 .6 .8 2-.7 1.2-.5-1.2-.8-1 .1-1-.8-.4-1-1.6-1-.1zM206.9 105.5l0 1 .6 .4 1-.8 .3-.6-.3-.4-1 .3zM203.2 109.5l.3 .3 .3-.3-.3-.3zM205 109.5l1.5 2.2 .4-1.2-.2-1-.2-.2-1-.2zM208.1 109.5l.4 .4 1 .3 .8-.7-.8-.5-1 .1zM206.1 113.5l-.9 1 .3 .3 .5 1.7 .5 .5 1-.1 2-1.4-.5-1-.5-.7-1-.7-1 0zM217 116.5l.5 .1 0-.1zM205 119.5l.5 .5 .4-.5-.4-.5zM311.5 126.5l2.2 .3 3.6-.3-3.6-.3zM258.2 130.5l.3 .8 .3-.8-.3-.7zM295.4 130.5l-3.2 1 1.4 1 3.8 1.3 4.1-.2 3.2-1.1-2.9-1-1.6-1-2.8-.6zM221 131.5l.5 .9 .7-.9-.7-.5zM257.4 132.5l.2 0-.1-.1zM318.1 132.5l-1.1 1-1.6 1-1.7 .3-3.2 1.7-1.2 2-1.2 1 .3 1 0 1 .7 1 0 1-.8 1 .1 2-4.6 1 1.3 1 3.5 1-.6 1-.1 1-2.4 1 1.3 1.1 2 .9-1.3 1-.7 .2-1.6 .8 2.3 2-.4 1-1.6 1 1.3 .7 3.9 1.3 1.2 2 1.8 1.6 9 .5 1.1-.1 4.7-1 2.6-1-.1-1 2.2-2-1.2-1 2.2-1-1.8-2-2.3-1-.2-1 2.5-1 .9-1 .2-1-3.5-1 .3-2-.2-1 2.1-1-.1-1-1.2-1 .4-1 .3-2 .9-1 2.5-1 1.5-1-1-1-5.1-1-2.2-1-1-1-1.5-1-1-1 .8-1-2.8-.8zM258.3 133.5l.2 .2 .2-.2-.2-.5zM268.4 140.5l.2 0-.1-.1zM270.7 140.5l-.9 1-.2 2-1.2 1-.1 1 .2 .2 1-.3 1 .7 .6-.6 1.2-2 .1-2 .6-1-.5-.5-1-.3zM281 147.5l-.3 1 .2 1 .6 .4 1 .2 1-.3 .4-.3 0-1-.4-.3-.4-.7-.6-.6-1 .2zM280.7 161.5l-1.2 .2-1 .5-.2 .3 .3 1 .9 .7 3-.2 .7-.5 .3-1-.3-1-.7-.8-1-.1zM289.9 170.5l-.2 1 .4 0 .6-1-.7-.1zM270 171.5l.1 1 .4 .3 1-.4 .4-.9-.4-.4-1 .1zM272.2 174.5l.3 .4 .3-.4-.3-.7zM279.3 174.5l1.2 .4 .3-.4-.3-.6-1 .3zM287.4 174.5l.1 .5 0-.6zM289.9 174.5l-3.4 1.7-.4 .3-.2 1-.4 .4-5-.3-1 .2-1-1.1-1-.3-1 .6-1-.1-.6 .6-.3 1 1.7 1 .2 .3 .1 .7-.6 1 .6 1-1 1-.2 1-.7 1 0 1 1.8 1.1 1-1.1 .1-1-.2-1 1.1-.8 1-.4 .1 .2-.4 1 2.3 1.4 2.8-1.4 0-1 .2-.4 1-.2 1.3 .6 .7 1 .4-1-1.3-2 .4-1 .5-.3 1.1 .2 1.4-1.4 .9-.5 .6-1-.5-1-.1-1-.6-1-.3-.1zM148.7 93.1l3.6 1.6 4 2.7 6.6 3.8-3.1 1.3 .5 .4 1 .6 2.4 1 5.6 1.9 .8 1.1-.1 1-.7 1.8-1.1 1.2 .8 1-3.8 1-1.9 1-3 1-11.6 .8-15.2-.2 0-18.4 7.6-3zM194.4 99l1.1-1 .6 1.6-.6 .8-1.3-.8zM267.5 123.3l2 .1 1-.7 1 0 1 0 1 .5 1.6 2.3 .4 2 0 1.2-1 2.3-1 .5-2-1-.3-1 .4-1-1.1-.7-2 0-.8-.3-.2-1 .4-1-.7-1 .2-1zM209.5 135.5l.3 0-.3 0zM254.5 140l.5 .5 .5 1 1 .6 .4 .4-.1 1-.3 .3-1-.8-1-.1-.5-.4-.5-1 .6-1zM268.5 151.4l0 2.4-.6-1.3 .5-1zM269.5 154.4l0 1.1-.2 0-.5-1zM271.5 155.3l.2 .2-.2 .5-.3-.5zM249.5 162.4l1-.1 .7 .2 0 1-.4 1-.3 .2-1-.3-.7-.9 .6-1zM253.5 169.3l1.2 1.2-.2 .3-1 .1-.2-.4 .1-1zM198.5 173.1l.1 .4-.1 .2-.1-.2zM191.1 183.4l2.1 1.1 1.2 1.2 2.1 .3 .7-1.5 .2-1 1.1-.5 1-.2 .4 .7 .6 .3 .5 .7 0 1 1.5 1-.3 1 .4 2 .3 1 .6 1-.8 1.3 .4 1.7-.6 2.2-1 2.1-1 1.2-4 2.5-.3 .7 .1 4.8 .7 6.3-.5 3.3-1 2.4-1.1 1.4-1.4 .9-1.9 .4-9.8-.3-2.8-8.1 7.1-4 3.1-1 .8-1.3 1.2-4.8-.3-3.7-.4-2.8 .4-2.2 .2-3 .5-.4 3.3 .4 1.1 .8 1-1.2 .9-.6-.9-.6-1-.1-2.5-2.1-1.3-.2 1.3-1.1-1.9 0-3.3-.9 2.2-1 .9-1zM246.5 192.2l1-.1 1.1 .7 .2 1.7-.8 5 .1 3.7-.6 2.5-1 2.4-2-3-1-2.2-.9-3.4-.2-2.8 3.2-3.9zM148.7 245.7l1.2 1-1.2 4.8-4.1 13-11.1 0 0-19.9z"/>
<path fill="#90d743" fill-rule="evenodd" d="M242.5 61l1-2.2 2-1.8 3-4.3 1-1.7 1-2.5 99 0 0 40.6-4.3-2.8-10.9-1.9-3.3 1.9-2.2 4.7 .6 6.4 1.4 3.8 1.2 2.3 2.3 2.5 .6-.5 3.1-2 1.1-1 2.1-1.3 5.4-3.8 2.9-3.9 0 67.5-.6-.5-.6-1-2-2-1.7-1-.2-1 .5-1-.5-2-1.8-1-1.3-1 .3-2 1.8-1-.3-1-1.5-1 .6-2 .1-1 2.4-2 .5-1-.4-1-2.2-1-1.5-1-.4-3 1-1-1.1-1-1.1-2-1-1-.6-1 1.8-1-.7-1 .2-1 2.1-1 .9-1-.2-1-2-1 .4-1-.2-2-.3-1 .3-1-.5-1-1.5-1-2-2-1.4-1 .1-1-.6-1-.9 1-.1 1-6.2 1-4.4 .2-9-.1-6.9-1-5.3 .9-4.1-.5-3.1 .6-2.4 .7-1.9-1.1-1.4-1.7-3.1-2.6-2-2.4-.2 1-.8 .7-1-1-.2 .3-.8 .3-.3-.3 .3-.6 .6-.4 .4-.7 .6-.3-1.6-.6-.3-1.7-.7-.8-1 0-.7 .8-.3 1.1-1-.2-3-1.5-1-.2-1 0-.8 .8-.2 .6-6 .6-1-.4-1-1.1-.7-1.3 .2-2.2-1.2-2.7-2.3-8.5-1 .9-1-.9-1-.4-2 0-1 .7-1 1.1-1.6-1.3-1.4-3.1-.6 3.1-.4 .8-1 .2-1 .6-1 .2-1-2.8-1-1.6-1 3.4-1 2.3-1.4 1.6 .4 .3 1 1.1 .7 5-.3 2.2 .9 3.9 .5 1-.4 1 .6 .9 1 .5 2-.3 1 .5 1 1.3 1 .4 .4 .7-.4 .6-.6 .4-.1 2-.3 1 0 1.2-.4 .8 .8 1 .1 1 1 1-.6 1 .1 .5 .5 .5-.1 1-.4 .2-.5 .8-.4 1 .9 .7 1.7 .3-.3 1-1.4 .9-1 .4-1-.1-2 .1-3-1.5-1-.8-.3-1-1.7-1.7-2 0-5-1-2-.1-1 .4-1 0-1 .8-1 .1-.7 .5-1.8 2-1.4 2-1.1 .7-1 1.3-1 .7-5 2.4-1 .4-1 .1-1 1-4-1.3-1 .3-1 0-4-1.1-2-.1-5.5 .3-1.6 .3-1.6 1-4.2 1.9-1.6-.9-.5-1 .4-1 1.4-1 5.6-2-.3-1 2.4-1.1 1.4-.1 1.1 .5 3 0 2-.3 1 .2 5 1.7 2 1.4 1 .3 .8-.6 1.2-1.5 3.9-2.5 5.1-3.9 2.1-2.1 .3-1 1-1-.4-.8-1 1-1-1-1.5-.2 1.5 0 1-1.6 2 .2 .5-2.6 .5-.4 .8-1.6-.2-2-.4-1 0-1-.7-1 .5-.9 .7-.1 .6-1 3.7-3 .8-.9 .6-2.2 .3-2.7-.7-3.7-2-.3-1 .5-1-.1-1-.8-1-.4-.3 1.1-.7 1.2-.6-1.2-.4-2.6-.9-2.1 0-6.1 1.9-3.6 1-1 1-2.2 1 1.5 1-1.5 1-.9 1 2.1 1 9.3 1-3.7 1-2.7 2-3.3 1-4.5 1-2.2 1-4.8 1 .3 1 2.5 1-.5 .7-3.1zM282.8 101.2l.2 1.3 .5 .7 1 0 .9-.7-.9-1.6-1 0zM205.5 89.6l1-2.3 .6 3.7-.6 2.7-1-1.7-.2-1zM257.5 94.3l1-1.1 1 2.5 .4 1.7-1 3.8-.4 .5-1.2-4.3 .1-2.7zM210.5 95.5l.4 1.9-.4 .5-.8-.5zM148.7 98.2l1.4 1.4 1.1 1.6-1.8 1.3 .2 1 3 2 2.1 1-3.6 2-2.4 .7-9 1.3-6.2 .5 0-8 8.9-.5 .6-1.3 2.9-1.6zM205.5 99.3l1 .7 .4 1.2-.4 1.1-1 .4-.6-.2-.4-.3-.2-1 .2-.7 .8-.9zM224.5 98.4l.8 1.2 .1 1.6-.9 1.2-.8-1.2-.1-1.6zM285.5 107.9l.3 .6-.3 .2-.7-.2zM208.5 121.2l.7 .3-.3 1-.4 .5-.6-.5 .4-1zM231.5 122.2l.3 .3-.4 0zM291.9 135.2l1 .3-1 .5-.4-.5zM260.5 137.4l.3 .1-.3 .2-.1-.2zM265.5 137.4l.2 .1-.3 0zM261.5 138.1l1-.2 1 .4 .5 1.2-.5 .7-1-.3-1-1.2-.3-.2zM263.5 141.3l.4 .2 .1 1 .8 1 .7 .8 .6 .2-.6 .3-1-.1-.6-.2-.9-1 .4-2zM277.5 140.7l.3 .8-.3 .4-.5-.4zM297.4 142l4.1-.2 2.6 .7 .5 1-2.7 1-.4 1-5.4-1 .8-1-.7-1zM273.5 147.5l0 .2 0-.2zM297.4 147.1l1.1 .4 1 1 3.5 1 0 1-.7 1-.8 .3-3.9 .7 1.1 1-1.3 .8-1-.8 .9-1-3-.7-.4-.3 .5-4zM290 156.4l1.9-.8 5.5 .2 5 1.7 .7 2-.5 1 .6 1 .8 1 0 1-2.5 2.2-4.1 .8-.2 0-.4-1 .6-.3 2.7-.7-8.2-1.4-3.2-1.6-.8-1 .2-1 .7-2 .8-1zM285.5 160.1l.4 .4-.4 .6-.2-.6zM280.5 167l3-.2 2 .2 1 .3 .8 1.2 .1 1-.4 1-.9 1-.6 .1-1 .8-2 .7-1 0-2-.9-1 .3-4-.2-.9-.8-.7-1 .1-1 .5-.7 2-.7 2 .6 1-.2 1 .1 .8-1.1zM334.3 172.9l6.3 1.6 8.9 1.9 0 7.1-15.2 .4-5.9 1.6-6.4 1 2.2 1-1.5 1-3.5 2-5.5 1.2-2.6 1.1-1 1.7-3.3 1.2-.8 1-1 2.8-.1 8.5 1.9 4.9 .9 1.4 6 4.3 9 2 9.2-6.3 0-6.3 2.4-4.5 3.4-4 1.7-2.8 2.2-2.2 2.5-1.7 2.8-1.3 2.6-.9 0 73.9-81 0-1-18.1-1-2-2-2-1-1.7-1-1.1-1-4.2-1-2.3-1-.1-1 2.2-1 .1-2-1.4-.5-1-.5-4.4-.3-6.1 .3-1.7 4-3.6 .7 5.3 .3 10.1 .6-10.1 2.4-10.4 2.2-4 .4-4.8 0-3.7-.8-6.7-.1-1.3 .3-.8 1.1 .8 1.1 1.3 .5 1.7-.2 2.2 .5 1.8 .4-1.8 .6-1 1-.8 2-2.3 .6 .2 .4 1.7 1-.2 1.5-1.5 .5-1.6 1-.6 1 .1 4-1.2 1.3-1 .8-1 1.9-1.3 1-.5 1 .4 .8-.6 .3-1 3.3-2.3 1.8-1.7 2.4-4 1.3-1.4 4.1-.6 2.1 1 3.2 .6 6.9 .1 12.9-1.7 2.8-1zM220.5 245.8l1-2.2 1-1.2 1-.9 1 1 1-.4 3 .8 1-.1 1 3.9-1 2.7-2 2.7-1 .8-2 .6-1 .9-2-2.2-1-3.6-.3-1.9z"/>
<path fill="#dae319" fill-rule="evenodd" d="M185.6 132.4l.1 .1-.2 0z"/>
<rect x="134.0" y="263.3" width="215" height="0.7" fill="#fff" opacity="0.45"/>
</g>
<rect x="133.5" y="48.5" width="216" height="216" fill="none" stroke="#000" stroke-width="1.11"/>
<g>
<rect x="471.5" y="48.5" width="216" height="216" fill="#375a8c"/>
<path fill="#2b758e" fill-rule="evenodd" d="M486.7 48.5l26.8 0-2 13.4 2.7 1.9 2-1.9-1.4-13.4 172.7 0 0 216-216 0 0-216zM532.7 86.3l-.7 4.7 .4 .3 1.1 .2 1-.4 .2-4.8-.2-.3-1-.2zM590.2 86.3l.3 4.7 2 .9 1-.1 .8-.8 1.2-2.8 1-1.8-1-1.8-2-2.9-1 .2-1 1.1-1 2.2zM605.3 131.5l.2 .2 1 0 .1-.2-.1-.6-1 .3zM543.5 137.5l-.5 1 .5 .2 .3-.2-.3-1zM544.8 140.5l.7 .3 .7-.3-.7-.6zM546.2 141.5l.3 .2 0-.9zM540.3 153.5l.2 .7 .3-.7-.3-.2zM542.5 157.5l-.1 2 .3 0 .5-1-.7-1.2zM548.2 162.5l.3 .2 .4-.2-.4-.3zM552.1 167.5l-.8 1 0 1 .2 .2 1 0 .4-.2-.4-2.1zM512.1 196.7l-1.8 2.8 3.9 1.9 1.1-1.9-1.1-3.9zM557.8 203.2l.7 1 .2-1-.2-1zM567.2 203.2l-.1 4.8 .4 1.2 .2-1.2-.2-5.1zM564.3 208l.2 1 1-.5 .3-.5-1.3-1.7zM553.1 214.3l.4 3.8 .2-3.8-.2-.5z"/>
<path fill="#21918c" fill-rule="evenodd" d="M477.3 61.9l3.9 10.4 5.5 4.9 11.6 2.8 9-5.8 2.2-1.9 4.7-1.8 5.3-2.7 4.1-.6 3.1 1.6 2.4 2.6 1.1 .9 .8 2.8 .3-2.8 2.2-3.2 1.7 3.2-2.2 7.9-.6 .4-1.4 0-1.9 .4-2.5 5.3 .3 4.7 2.2 2.7 1.9 .3 1.4 .8 2.1 .6 1-1.2 1-2.3 1 .9 1.2-1.8 0-4.7-1.2-2.9-1.7-3.2 0-7.9 .7-.7 2-3.7 1-.4 1 1 2 1 1 3.7 1-.9 1-3.8 1-.6 2-4.6 1-1.4 1-1.9 1 .9 2-9.7 .9-2.7 133.1 0 0 216-111.6 0-.4-.2-.5 .2-103.5 0 0-216zM570 61.9l.5 .9 .3-.9-.3-1.4zM586.3 80.2l-1.8 7.2-.4 3.6 .4 3.2 1 .3 1 4.8 .2-1.9 1.8-3.8 1 .6 1 .2 1-.1 1 .4 1-.2 2-2 2-.5 1.1-1 .7-4.7-.8-3.3-.9-2.8-1.1-2-1-1-2-1.6-1 0-1 .7-2 1.9-2 .9-1 .7zM581.4 94.7l0 2.7 .6 2.2 .5 .6 .9-.6 .1-.6 .8 2.2 .2 .3 .2-.3-.2-2.6-.7-1.2-2.2-2.7-.1-1.1zM539.1 97.4l.4 1.2 .7 1 .3 .3 .2-.3 .3-2.2-.5-1.8-1 .1zM504.3 103.5l-2.2 1 .9 1 2 1 .3 2-.1 1 2.1 .1 3.1-1.1 3.8-.4 1.9-.6 .4-1 3-1-5.7-1 .5-1-.1-.1-6.9-.1zM534.2 103.5l.6 0-.3-.1zM560.4 107.5l.1 .1 .2-.1-.2-.2zM597.1 107.5l.4 .4 .2-.4-.2-.8zM590.4 111.5l-.2 1-.5 1 2 2 .8 .4 1 .1 1-.3 1 0 .3-.2-.3-.5-1-.1-2-1-.4-.4-.4-1 .3-1-.5-.8-1 .7zM613.4 111.5l.5 1 .6 .5 .4-.5 .1-1-.5-.3-1 .2zM609.2 113.5l-1.2 1 .3 1 1 1 .5 1 .1 1 .4 1 .2 .2 2-.9 .3-.3-1.1-1 .8-1.5 1-.3 .2-.2-.8-1-2.4-1.1-1-.1zM600.4 114.5l.1 .3 .2-.3-.2-.1zM615.9 114.5l0 1 .6 .3 1.1-.3 .6-1-.7-.7-1 .1zM605.4 117.5l-1 1 1.1 1.6 1 .2 .7-.8-.3-1-.4-.6-1-.5zM534.2 118.5l.3 .6 1 0 .7-.6-.7-.6-1-.4zM518.6 119.5l.9 .1 .2-.1-.2-.1zM504.4 120.5l-5.2 1-1.7 1 .8 .3 9 .6 6.9 .2 .6-.1 2.3-1-.9-1-8.9-1.2zM524.3 120.5l0 1 4.8 1.9 1.9-.1 1.4-.6 .3-.2 .2-1-.5-.5-3.3-.9-2.4 .3zM606.1 121.5l.4 .6 1 0 .3-.6-.3-.8-1 .1zM603.3 122.5l1.2 .5 .4-.5-.4-.4-1 .3zM619.7 122.5l-.2 .5-1-.1-.5 .6 .5 1 1-.9 1.2-.1 .1-1-.3-.2zM593.5 123.5l1 .4 1-.4-1-.4zM502.9 126.5l4.4 1 6.9 .3 2-.3 1.6-1-3.6-.3-6.9-.3zM605.5 128.5l-1.5 2-.5 1.4 0 1.1 3 0 1.8-1.5 .4-1 .1-2-.3-.2-3 .2zM614.8 128.5l-.4 1 .1 .1 1 .1 .9-.2-.3-1-.6-.4zM533.9 135.5l-.5 1 .4 1 .7 .9 1-1.1 .3-.8-.1-1-.2-.3-1-.3zM541.8 137.5l.1 2 .6 .8 1 .6 1 .9 1.2 .7 .8 1.9 1-.2 .5-.7-.5-.4-.3-.6 .2-3-2.9-2.3-1-.5-1 .2zM484 142.5l-.6 1 1 2-1 1-1 3 0 1 1.1 2-.3 1 .4 2-.3 1 .2 1 1.5 1 1 1-.7 1-2.1 2 .9 2-.4 1-1.5 1-.7 1-1.2 1 .2 1 .9 1-2.5 2 .5 1 1.1 1-.1 1 .4 2-.6 1 .2 1 1.7 1-.6 1-2.8 1-1.2 2-.9 1 .2 1-.5 1 .2 1 .8 1 .8 2 8.6 2.8 2.9 .2-2.9 2.2 1.9 2.8 8.4 3.7 10.3 3 6.9 .2 2.5-3.2 1.5-3.7-1.1-6.7-2.9-1-6.9-.1-5-1.2-.6-1 2-1 2.9-1-.8-1-5.2-3-.7-1-1.6-.4-4.6-.6-.5-1 1.7-2 3.4-.6 5.1-1.4-2.6-1-1.5-1 1.9-1 .2-1-2.3-1-.8-.8-.5-.2 .5-.2 .6-.8-.6-1.1-1.7-.9-6.6-2-.4-1 .5-1 2.8-1 .7-1-3.8-1-2.4-1 1.1-1 2.8-1 1-1-.7-1 0-1-.3-1 .1-1 1.5-1 3.6-1-2.1-1-3.1-1-.3-1-1-1-.6-1 1-1 .1-1-1.5-1-2.3-.7zM562.9 143.5l.6 .5 .5-.5-.5-.6zM577.1 143.5l-.6 1-.2 1 .2 .4 1-.4 0-1 .7-1-.7-.4zM521.4 145.5l-1.9 1-7.1 1 .5 1 6.6 .7 4.1 1 3.1 0 2.4-.5 .6-.2 .7-1-1-1-1.7-1-.4-1-3.7-.7zM542.8 145.5l-.2 1-.7 1-.1 1 .4 1-.7 .3-2-.3-1.2 1 .7 1-.5 .7-1 .4-1-.2-1 .7-1 0-.5 .4-.4 1 .3 1 .6 .9 1 .8 1 0 1.7-.7-.9-1 1-1 .2-.5 .1 .5 .9 1 1 .3 .4 .7-.1 1 .6 1-.1 1-.5 1 .7 .4 1 0 1-.7 1.5-1.7-.5-1-.3-1-.7-.6-.9-.4-.3-1 .2-.2 1-.7 1 .1 1-.7 1 0 1 .4 .5 1.1 .5 .5 1-.2 .4-.3 .1-1 .1-1-.6-.5-1-.1-.7-.4-1.8-2-.1-1 .3-1-.7-.5-.8-1.5-.2-.2-1-.1zM568 145.5l-.5 .6-.8 .4-1.6 2-.6 .4-1 .1-.2-.5 0-1 .8-1-.6-.7-3 .5-.2 .2 .6 1 .3 1-1.1 1-.5 1 .6 1 .3 .2 1-.5 1 .1 1-.3 1 .5 1-.5 1-.8 1 0 1 .6 1 0 1.3-1.3-.1-1-.9-1 1.7-1 .2-1-3.2-.6zM584.4 145.5l.2 0-.1-.2zM555.4 150.5l.5 1 .6 .4 .5-.4 0-1-.5-.9-1 .3zM562.6 152.5l.9 .6 .3-.6-.3-.4zM593.1 152.5l.4 .5 1.5-.5-.5-.3-1-.2zM607.7 152.5l.3 1 .5 .6 1-.2 .6-.4-1.6-1.9zM574.3 153.5l-.6 1 .1 1 1.5 1-.1 1 1.3 1.7 1 .3 0-1 .7-1 .2-1-.2-1-.7-.3-1 .4-.2-.1 .3-2-2.1-.1zM560.6 154.5l1.7 0-.8-.3zM586.5 154.5l0 1.6 1-.5 0-1.3zM598.9 154.5l-.4 .1-.6 .9 .1 1 .5 .7 1.9-1.7-.6-1-.3-.1zM559.4 157.5l-.4 2 1.5 1.4 .7-2.4-.3-1-.4-.3-1 .2zM552.3 158.5l.2 1 1 0 .7-1-.7-.8-1 .5zM551 159.5l0 1 .5 .4 0-.4 1-1-1-.3zM544.9 160.5l-.8 1 .4 1.1 1-.7 1-.6 .1 .2 .2 2-.7 1-.1 1 .7 1 .3 2 1.2 1-.1 1 1.4 1.1 1-.9 1 .7 1 .2 1-.8 1 .7 .3-1 .1-1-.4-1-.8-1-.3-1 0-1-.9-.6-1 1.1-.4-.5-.1-1 1.2-1 .3-1.3-1-.6-1 0-1-1.1-.5 0-.5-.8-.2 .8-.8 .2-.4-.2-.6-1-1 .5zM556.3 163.5l-.4 1 .6 1.5 0 .5-.3 1 .3 .3 2 .2 .5-.5 0-1-.5-1.1-.7-.9-1.3-1.2zM568.2 164.5l-.1 1 .4 .4 .7-.4 .1-1-.8-.3zM544.3 170.5l-.7 1 .4 1 .2 1 .3 .3 .5-.3-.1-1 1.1-1-.5-.9-1-.3zM559.1 173.5l-.6 .3-.8 1.7 0 1 .8 .6 1.2-.6 .3-2-.5-1.1zM590.3 176.5l.2 .8 .5-.8-.5-.3zM580.3 177.5l-.2 1 .8 0-.4-1.2zM587.2 177.5l-.7 .6-1 .1-.3 .3 1.3 3 1-1 1.6-1 .7-1 .2-1-2.5-.1zM591.6 177.5l.9 1.8 .5-.8-.1-1-.4-.6zM565.6 180.5l.9 .5 .4-.5-.4-.8zM596.3 180.5l.2 .3 1-.1 .4-.2-.4-.3-1-.1zM571.1 182.5l.1 1 .3 .4 .8-.4-.4-1-.4-.3zM563.6 186.5l.8 1 .1 .5 .2-.5 1.8-.2 1-.7-1-.7-2-.3zM570.3 187.5l-.8 .4-.3 .6 .1 1 .4 1 .8 .6 1.4 .4 .6 .5 .7-1.5 .4-2-.6-1-.5-.3-2 .2zM555.2 188.5l-2.2 1-.2 1 .7 1 2-1.2 .7-.8-.7-1.2zM564.8 188.5l-1.3 .1-.9 .9 1 1-.1 .2-1 .5-.5-.7-1.5-.7-1-.8-.9 .5 .4 1 1.1 1 0 1.3 .4 1 1 .9 1-2.8 2 .1 1.4-1.5-.4-2.3zM557 189.5l-.2 1 .6 1 .1 .7 .1-.7 .7-1 .1-1-.9-.3zM548.4 190.5l.1 .4 1-.3-1-.3zM556.3 199.5l-1.8 10.8-1-1.2-1 .6-1 .9-.4 3.7 .4 2.5 .4 5.6 .6 2.6 1 1.6 1-1.9 1-5.4 1 1.8 1 .2 1-3.5 1-1.3 .7-2.2 .3-1.9 1 .1 1-.5 .3 2.3 0 8.1 .7 1.7 1 4 1 7 1 3 1-1.9 .6-3.3 .3-10.5 .8-8.1 .3-6.3-.6-4.8-1.4-3.2-2 1.6-1-1.2-1 .2-1 .4-1-3.2-1-.4-1-.2-1-.5-1 1.6-1 .7zM543.1 214.3l0 8.1 .4 9.8 1-1.1 .3-8.7-.2-8.1-1.1-2.5zM528.2 232.9l.9 1.4 1.6-1.4-1.6-.4zM536.8 232.9l.1 13.8 .6 1.7 1 1.1 1-2.4-.4-14.2-.6-3-1-.3zM548.5 167.4l.2 .1-.3 0z"/>
<path fill="#25ab82" fill-rule="evenodd" d="M580.5 48.5l18.9 0 1.1 2 1 1.3 1 .5 1 .2 6-.2 1-.3 1-1.1 1-2.4 11 0 1 4.3 1 2.5 1.1 1.9 1.4 1.5 1.9 .5 5.5-1.5 4.1-1.7 4-7.5 44 0 0 216-90 0-1-4.1-1-1.7-1-1.2-2-4.4-1-2.8-.7-3.6-.3-.8-1 .5-1-.4-.3 .7-.7 3.2-1 1.4-1-1.1-1-3.4-1 .1-1 2.2-1 .2-1-1-1-1.6-1 3.2-1 2-1-.3-1-1.3-2 1-1-.5-2 2.4-2 1.9-1 .5-1-.8-1-.4-1-.2-1 .1-1 .9-1 2-2 1.1-4-2.8-1-2-1 .9-1 .4-1-.6-1-1.5-1.7-6 .7-5.9 .2-7.9 .8-4.7 1-.6 1 2.3 1.9 3 .1 1.7 .1-1.7 .9-2.9 1 .1 1-1.4 1-3 1 .3 2 4.6 1 6.2 1 1.3 1 3.5 1 1.8 1 .6 1-1.2 1-2.8 1-7.4 1-4.6 1-2.8 .5-2.8 .5-1.7 1-1.3 1-.4 1.7-4.7-.7-3.3-2-2.8-.7-5 .7-1.9 .3-1.8 .4-2.8-.2-2.2 .3-1.7 .2-.4 .9-.9-.1-1 .2-1 1-1.4 .2-.6-.2-2 1.6-2-.7-1-.9-.4-2 .1-.5-1.7 .5-.7 .6-.3 1-1-.6-.3-1 .3-.4-1-.6-.5-1 .3-1.4 1.2-1 1-.2 1-.6 1-.8 .4-.3-.4 0-2 .3-.5 1-.1 .3-.4-.3-.3-2 .2-1-.9-.1-1 .2-1-1.1-.7-1 .7 .2 1-.2 1.6-1-.2-1 .3-.2 .3 .7 1-.2 1-.3 .4-1.3 .6-.7 1.1-1 .7-3-.1-1-.4-1 .2-.3 .5 .6 2-.9 1-1.1 2-3.3 .3-1-.1-.9 .8-.1 1 .1 1 1.3 5.2 .5 2.8-.9 3.8-.7 4.7-.3 6.3-.1 8.1 .1 3.4 1.3 7.1-.3 8.6-2-5.7-.8-13.4-.2-10-1-3-.9-1.4-.1-.6-1 .7-.5 14.3-.5 6.1-1-.5-1-3.8-.3-1.8 .1-8.1 2-6.3-.8-2.3-1-.9-1 1.7-1 .4-.4 1.1-1.1 14.4-.5 2.3-1 .5-1 0-1.1 .4-5.7-.2-3.1 1.3-4.1 .4-5.3-3.3-1.2-1.4-1-8.1 2.2-1.2 3.9-5.1 1.4-2.1 3.4-2.7 .7-1.1 1-2.6-1.4-2.8-1-5.2-3-1 6.6-3-8.7-1-.9-1 3.3-1 1.2-1-.1-1-.9-1-7.5-1-5.1-2 7.1-1.2 5.3 .7 1.2 .5 2.9 .6 5.5-.6 1.8 1 .3 0 1.1-2-.3-1 .4-.4 2.1-.2 .2-.4 .3-1 0-1-.2-1 .1-1-.6-1 .2-.4 1 .1 1-.9 1-.1 1.4 .3 .6 .6 .8 2.4 0 1-.8 .8-1 .5-1.1 1.7 0 1 1.1 .4 .5 .6 .5 1.1 .7 .9-.7 .6 0 .7 1 .2 2-.9 1-1.4 .9-.2-.9-1-1 .2-1-.1-1.1-1.1-.6-1 .7-.4 1-.2 1-1.1 .6 .7 1.4 .6 1-.3 1 .6 1 1.4 1 0 0-.8-.8-1.5 4.8-2.6 1.1 .6-.7 1 .6 1 1-1 1.4-2 .6-1.3 .6 .3-.3 1-.3 3.7-.7 1.3-.3 .1-1.6-1.1-.4-1-.3 1-1.7 2.8-3 .1 .1 1.1-.5 1 .4 .2 .3 1.8 .7 .4 1 0 .6-.4 .4-1 .9-1 1.1-.3 2-1.6 1-.4 1 .5 2.1-.2 0-1 .9-1 1-.2 .1-.8 .9-.7 .9 .7 .1 .3 1-1.3-1-.8-1-.3-.4-.9-1.5-1-.3-1 .1-1-.2-2 .3-.4 1-.1 2 .4 .2 2.1 1.8 .8 1 .2 .6-1-.4-1 .8-1 1 0 .7 1 .2 1-.1 1-.8 .9-1-.5-.8 .6 .2 1 .6 1.6 .5 .4 1.5 0 0-1-.7-1 .7-.7 2-.4 .7 1.1-.4 2 .7 .6 1 0 .3-.6-.6-1-.2-2 .5-.6 3-.1 1-.3-.1-1 1.1 0 .8-1-.5-2-1.2-1 .5-1-.6-1-1-.2-1 1.1-.3-.9 .3-.7 1-.7 .2-.6 .8-1.1 1-.2 2-1.7-.4-2 .4-.5 2-.8 1-.1 2.2 2.4-.2 .5-1-.5-1.2 1 .2 1.2 1 .8 1 .2 .6-.2 .7-1-.3-.7-.8-.3 2.3-1-.4-1 .9-.4 .5-.6-.1-2-.6-2-.8-.3-1 .5-.9 .8-.1 1.5-1 .9-.5-.4 .3-1-.8-.8-1 0-1 .3-1-1.4-1-.6-1 .1-2-.1-2 .4-2-1.9-.4 0 .4 0 1-1.7 2 .6 1 .5 1-.4 .3-2 1-2 .7-1.1 1-.5 1.2 .6-.2 1.1 1 .9 1 .4 1-.1 1 .4 .8-.7 .1-1-.3-1-.7-1-.9-.9-2-.7-2 .3-1-.3-1-1.4-1-.4-.6 .4-.8 2-.6 .7-1 .5-.7-1.2 1-1-.4-1-.1-1-.5-1-.3-.2-1-.2-1 .4-1-.7-2 .4-.8 1.3 .8 .8 1-.4 .6 .6-1.6 .4-1 1.6-1 .9-1-.6-.1-.3-.9-.9-1-.7-1-.4-1 .4-.7-.4 .7-1.8 1 .8 1-.5 .6-.5-.4-1-1.2-.9-1 .3-.3 .6 .2 1-1.9 .8-1 .7-1 0-1-.2-1-1-1-.1-2-.7-1.1 .5-.9 .7-.5-.7-.5-.4-1-.4-1 .1-1-.8-1-.1-.6-.4-1.1-1 1.4-2 .2-1-.9-.5-1 1.1-2 .1-1-.2-1-.7-.4 .2-.9 2 1.3 1.8 1.2 1.2-.2 .5-.6 .5 .2 1-.6 1-1-.1-1 .1-1.4-1 0-1 .5-2 0-1 .3-1-.1-1-.3-.5-1 .5-1 .1-1 .8-2.5 2.7-4.3 .1-1.3 .3-.5 1-.9 1-.5 2 3.2 .5 .7 .5 0 1-.7 .1-3.1-.8-4.1-.5-12.2-.4-1.1-.4-1.9-1 .3-1 .6-1-.4-1 1.3-1 1.2-.6 1.2-.4-4.4-1-1.4-1 1.6-1 3-1 6.9-.8 5.3 0 4.1-.6 3.1 .3 1.6 1.1 .8 .2 2-1.2 1.2-1-.5-1-1.6-1-1.1-.4-2.4 .5-.6-.1 .5-1 6.9-2.4 1.2-1.6 1.8-1.4 1-.3 .3-.3 1.1-2-.4-.3-1.9-.7-.5-1-.1-2-.5-1-1-1.2-.6 .2-.1 1-.3 .4-.8-.4 .6-1-.5-1-1-1 0-2 .6-.3 .4 .3 .5 1 1.2 .8 1 .1 1.1-.9-.7-1 .6-1 1 .6 2-2 .8 .4 .2 .4 1-.4 1 .3 1 .7 .5 0-.4 1-1.1 .8-1-.3-.7 .5 .7 .7 1-.5 2 2.4 .8-1.6 .1-1-.9-1 .2-1 1.8-.2 .7 .2-.6 1-1 1 1.9 1.3 1 .1 1 .7 1 .3 .4-.4-.2-1-.2-.2-1-.4-1-1.1-.5-.3 1.5-.9 1 .8 1.1 .1 .9 1.1 .4-1.1 .6-.9 .3-1.1-.3-.7-1.7-.3-1.6-1-.3-1 2-2.3 .6-17.2 1 1 1-5 1 6.3 1 1.4 1-3.9 1-.1 1 .1 .8-3.6-.2-7.9 .4-1.8 2-1.6 1 1.4 1-.9 1 .3 1-.4 1 .4 1 1.2 .3 1.4 .4 7.9 .3 1 1.8-1 1.2-.9 1 .5 1 2.7 1 .9 1 1.9 .2 1 0 4.7-.9 3.7-.3 2.8 1 1.4 1 .6 1 1.5 1-.1 1-1.2 .3 1.5 .7 1.1 1.5 1.2-.1 1 .6 .1 1-.5 1 .1 2.4-1.7 .6-1.2 .9 1.2 1.1-.2 1-1.2 .6-1.5 .4-2.2 2-1.4 1-1.4 1 0 1 .6 2 2.3 1-.2 2.9-6.3 1.1-3.1 1-1.4 1-.9 2-.8 6-1 5-1.2 1-.6 1.8-1.8 1.2-4.1 .8-3.8-.8-2-1-1.4-1-.9-2-.9-7-1.3-1-.1-1 .3-1 .7-1 1.1-1 1.5-1 2.1-1 3.1-1 2.4-1 1.6-1 .6-1-1.2-2-3.7-1.8-1.9-1.2-2.3-2-1.9-1-.7-1 0-4 1.6-1 .1-1-.1-2 .7-1 .2-1 1.3-1-1.2-.9-8.1-1.1-13.4zM554.2 97.4l-.7 3.8 .1 1.3 .4 1 .5 .7 2 0 1 .6 1.9 .7-.5 1 .1 1 .4 1 0 1 .4 1 .7 .6 2 .4 1-.4 .4-.6 0-1-.7-2-1.7-1.4-1.5-1.6-.3-1 .1-1-.3-.6-2 .2-1 .3-.5-1.2-.5-3.6-1-1.8zM592 103.5l.5 .1 .4-.1-.4-.4zM596.1 104.5l-.6 2.6-1.3 1.4 .3 .3 2 .5 1 .9 .9 .3-.9 1-.3 0 .3 0 1.8 2-.8 .9-1.2-.9-.8-.9-2.1-1.1-1.1-2-.2-1-.6-.6-1 .3-.9 1.3-.3 1-.9 1-.4 1-1.3 1 .1 1 .7 .4 2 .5 2 1.6 2-.1 1 .4 1-.9 .3 .1 .7 .8 1-1.2 1 .2 .3 1.2 .7 .7 2.2 1.3-1.2 .4-1.1 .6-.4 1 .5 1 1 .5 1.6 1.5-.3 1-1.1 1 1.1 1 .5 1-.7 1-.4 1 .3 1-.1 1-.5 1-.1 1 .3 1 1.4 .4 1-.4 1-.9 .9 .9 1.1 .7 1-.6 1 1.2 .8-.3 0-1 .2-1 1-1.4 2-.3 .3-.3 .1-1 .6-.5 1-.2 1 .1 .8 .6 .2 .4 .2-.4 0-1-1.2-4-2 .4-.7 .6-.3 1.4-1 0-.8 1.6-.5 0-.7-.8 .3-1.2-.2-1 1.6-1 .3-.4 .9-.6 .5-1 .6-.3 2 2.2 .6-.9 .4-.2 1 .8 1-.4 1-1 1-.4 1.4-2.8 .6-.6 1 0 1-.9 .5 .5 .3 1 1.7 1.4 .6-.4 .3-1 1-.6 1.2 .6 1.2 .3 5.7-.3 1.5-1.2 2.5-.8-2.5-1.3-4.1-.5-5.5-.5-3.2-.7 2-2-.7-.4-1.4-.2-1.1 .4-2 .2-1-.6-1.4 .6 .4 .4 .6 1.6 1 1-.7 2-.1 1-.8 1.1-1-1.1-.4-1-.6-1-1-1 .2-1 1.4-2-.9-1-.3-1 .2-1-.6-1-2 .6-2.2-.6-1.5-1-1.3-.4-2 .1-.7 .3 1 1 .4 1-3.7 .2-.7-.2 .7-.2 .8-.8 .2-.7 .3-.3-.3 0-1 .3-1 .8-1-.6-1 .4-.2 1.1-.8 .7-1-.1-1-.9-1.9-.7 .7-1-.9-3-.9-1.9-1-.3zM601.5 106.5l.8 1 .2 2.2 .2-.2-.1-1 .5-1-.3-1-.3-.2-1 .2zM604.6 106.5l-1 1 .9 .7 1-.2 .3-.5-.3-1.2zM544.2 113.5l-.6 1 .9 2.1 1 0 1.9-1.1-.9-1.8-1-.8-1 .1zM590.2 118.5l.3 .2 .2-.2-.2-.2zM543.2 119.5l.3 .3 .2-.3-.2-.2zM592.3 122.5l-.8 1.1-1-.2-.2 .1-.6 1 .1 1 .7 .4 .5 .6 .5 1.2 .1-.2 .9-.2 .3 .2-.3 .7-1 .5-.7 1.8-.5 2 .2 .3 1-.1 1-1 2 .5 2 1.9 .7-.6-.1-1 .8-1-1-2 .2-1-2-2 3.2-1-.3-1-1.5-1.8-1-.7-2-.4-1 .8zM562.5 123.5l-1.6 2 .4 1 0 1 2.2 1.1 .5 .9 .5 .4 1.3 .6 .7 .2 .4-.2-.4-1-1.1-1 .3-1-.9-1-.4-1-.1-1-.8-1.9zM586.4 123.5l1.5 0-1.4-.2zM534.1 125.5l.4 .5 .5-.5-.5-.3zM574.2 125.5l-.8 2 1 1 1.1 .6 .3-.6-.3-.7-.7-.3 .3-1-.6-1.4zM575.8 126.5l.7 .5 1 .2 1-.2 .2-.5-.2-.3-1-.4-1 .1zM599.3 126.5l-.1 1 .3 .6 .3 .4 .7 .2 .2-.2-.2-.8-.3-.2-.2-1-.5-.1zM567 127.5l.3 1-.7 1 .9 .2 1-1.2-.5-1-.5-.4zM583.4 129.5l-.6 1 .7 .5 .2-.5-.2-1zM559.3 131.5l.2 .4 .3-.4-.3-.2zM634.5 131.5l-.1 1 1 .3 2.3-.3-2.3-1.3zM568.3 132.5l-.3 1 .5 .7 .5-.7-.2-1-.3-.4zM585.3 132.5l.2 .8 0-.9zM546 133.5l1.5 1.2 .1-1.2-1.1-.6zM585 135.5l-.5 .2-.5 .8 .3 1 .2 .2 2 .8 1 2.8 1 1.2 0 1.4 .2-.4-.1-1 .9-.3 .9-1.7-1.1-1-.4-2-.4-.5-1-.6-1-1.1-1-.1zM623.9 135.5l.6 .4 .4-.4-.4-.8zM591.3 136.5l0 1 .2 .5 1-.1 1 .2 .8-.6-1.8-1-1-.2zM606.3 138.5l-1 1 .3 1 .9 .5 .9-.5 .1-.5 .3 .5-.5 3-.8 .5-.3 .5-.1 1 .2 1-.8 .2-.4 .8-1.6 1-.3 1 .3 1.2 .6 .8 1.4 .2 1-.4 .2 .2 .5 2 1.3 2-.8 1-.3 2 1.1 1.2 .3-1.2-.2-1 .5-1-.6-1 1-.5 .7 .5 .3 .6 2 .3 .6-.9-.4-1-1.1-1-.8-2-1.3-.4-1-1.2-1.1 .6-.4-1 0-1-.5-2 1-.8 1 .2 .7-.4 .8-2 .5-1.9 .8-1.1-.8-1.1-1-.3-1 .6-1.5-1.2-.5-.1zM660.7 138.5l-6.6 1 6.6 .8 11.6-.7 .3-.1-.3-.1-11.6-.9zM603.5 142.5l.4 0-.4-.3zM595.9 144.5l-.5 1 .1 .3 2 1.1 .4-.4 .6-1-.3-1-.7-.9-1 0zM587.1 145.5l.1 1 .3 .2 .5-.2 .5-.7 1 .1 .3-.4-.3-.5-1 .1-1-.4zM619.5 148.5l.1 0-.1 0zM625 149.5l.4 2 1.2 0 .7-1-.7-.6-1.1-.5zM582.1 150.5l.4 .8 2 .5 .6-.3-.2-1-.4-.2-2-.2zM592.3 150.5l-.8 1.4-1.1 .6 .3 1 .8 .6 1 .4-.5 1-.1 1 .3 1 .7 1 1.6 1.9 3 .4 1-.9 1 .3 1-.4 1 .3 2 1.1 1-.7 0-2-1.2-1-1-2 .3-1 .9-.6 .2-.4-.2-.5-1.3-.5-1.7-1.2-1 .2-1-.3-1-.6-2 .2-3-.4zM618 152.5l.9 2 .6 .6 1.1-.6-.8-1-.1-1-1.2-.8zM616.1 155.5l.4 .4 .2-.4-.2-.2zM592.7 161.5l.8 .9 1-.6 .2-.3-.2-.7-1-.1zM604.8 162.5l-.3 .3-1 1.7 .8 1 0 1 .2 .5 2 1.1 1 .2 1-.4 2 1 .9-1.4 1-1 .3-2-1.2-.4-1-.7-.3 .1-.2 1-.5 .4-1-.6-1 .4-1 0-.2-.2-.5-2-.3-.2zM619.4 162.5l.1 .1 0-.1zM580.2 166.5l-.3 1-.3 2 .4 1 2.5 1 2-.5 .7-.5-.7-1.3-1-.5-1.1-.2-.3-1 .4-1-1-.9-1 .4zM597.2 171.5l-.8 1 1.1 .6 1-.5 .5 1.9 .5 .4 1-.3 .7-1.1 1.3-.9 0-.2-1-.6-2 .2-1 .5-1-1.1zM608.2 171.5l0 1 .3 .3 1 0 .6 .7 0 1 .4 .8 .6-.8-.7-3-.9-.8-1 .4zM577.2 172.5l.6 1 .7 .5 1 0 .5-.5-.5-1.1-2-.9zM575.4 173.5l.3 0-.2-.2zM576.5 174.5l-.7 1 .7 1.5 1 .2 .1 .3-.8 1 .4 1-.1 1 .4 .6 1-.1 1-1 1-.5 2-.2 1 .6 1-.2 1.6 2.8 1.4 1.5 1 0 2-.4 1-.5 1-.5 .9-1.1 .4-1 .7-.6 1 .6 .6 1 .2 1 .2 .2 1.2-1.2 1.8-1 .3-1-.3-.2-2-.6-1-.7-1 0-1-.8-1-1.1-2.3-1.6-.7-.1-1 .5-1 1-1 .3-1-.1-1 .8-1 .4-1 0-1-1.2-1-.7-2 .4-1-.1-2-1.2zM597.4 177.5l.1 .2 .1-.2-.1-.2zM613.4 177.5l.1 .4 .5-.4-.5-.2zM614.8 177.5l.2 1 1.5 2.3 .7-1.3 0-1-.7-1.1-1-.3zM533.4 178.5l.8 1 .5 0 .4-1-.6-.5-1 .4zM620.2 179.5l-.7 1-.2 2 .2 .4 1 .1 1.9-2.5-.2-1-.7-.4-1 0zM624.4 179.5l.2 0-.1-.2zM541.9 183.5l-.4 .2-.6 .8 0 1 .5 1-.6 1 .7 2.4 1 .9 1-1 2 .2 1-.6 .9-.9 1.4-3-.9-2-.4-.1-2 1.3-1 .2-1 .9-.5-.3-.2-2-.3-.3zM588.4 185.5l0 1-1.2 1-.1 2 2.4 .9 1.2 .1 .2-1-.2-1 1.8-1.4 .4-.6-.4-.5-2 .8-1 .1-.8-.4-.2-1.1zM530.3 188.5l-1.8 1 1.3 1 1.2 .5 1.4 .1 1.1 .6 1.3-1.2-1.3-.5-1.1-.9-1.4-.8zM542.2 192.8l.3 .3 0-.7zM542.1 196.7l0 2.8 .4 2.2 .7-2.2 .5-2.8-.2-.5-1-.7zM587.3 199.5l.2 .1 0-.3zM577.7 203.2l-.2 6.1-.6 5 1.6 3.3 1-2.1 .3-1.2-.4-11.1-.9-3zM545.5 78.7l1-.2 1-1.2 1-.1 1 .3 .7 2.7-.4 6.1 .7 5.4 .3 5.7-.3 .4-1-.6-1 .1-1-3-.5-3.3-.5-4.7-1.9 8.4-.1 1.4-1-2.6 0-5.4 1.3-7.9zM519.5 93.8l.9 .9-.6 2.7-.5 0-.4-2.7zM532.4 99l1.1-.2 .5 .8-.5 1.4-1.1-.7-.6-.7zM537.5 99.5l1.1 3-1.1 .4-1-.4 1-2.9zM542.5 98.7l1-.9 1 0 .5 1.8 .5 1 1 0 1 .8 .5 1.1 0 1-.5 .9-1-1-1-.4-2 .6-2.3-1.1 .9-2.9zM486.7 111.4l4.8 1.1-.5 1 1.5 2-1.1 1-1.9 1-.5 1-2.3 1.5-1.7-.5-1.9-1-.5-1-2-1-.4-1 1.3-1 1.7-2 3.1-1zM603.5 113.9l.4 .6-.4 .4-.2-.4zM615.5 118.8l1-.2 .2 .9 1.5 1-.7 .5-1 0-1 .4-1.1-.9 .2-1zM603.5 120.1l.2 .4-.4 0zM613.5 122.4l0 .2-.1-.1zM606.5 124.3l.7 .2-.7 .2-.2-.2zM608.5 124.3l.3 .2-.3 1.5-.2 .5-.8 .4-.6-.4 .9-2zM594.5 130.4l1-.1 .1 .2-.1 .8-1-.8zM551.5 139.6l1 1.2 1-.4 .5 2.1-.5 .2-1-.7-1 0-.6-1.5zM572.5 141.4l.2 .1-.2 .6-.4-.6zM531 142.1l1.4 0 .5 .4 .9 1-.3 .7-1.1-.2-.8-.5-1-1zM514.2 143.1l5.3-.2 1 .6-1 .2-5.3 .6-3.2-.8zM554.5 143l1 .2 .3 .3-.3 .2-1.2-.2zM534.5 144.9l2-.1 1.2 1.7-.2 .6-1 .2-2.3-1.8zM551.5 145.1l1 .4-.8 1-.1 1 .4 1-.5 .7-1-.2-.8-.5-.4-1 .2-.6 1.4-1.4zM556.5 145.4l.2 .1-.3 0zM531 151.1l.6 .4-.6 .5-1.5-.5zM570.5 151.2l1-.6 .5 .9-.3 1 .2 2 .6 .7 0 .4-1-.2-1-1-1-1.7-1 0 0-.2 1-.1 .6-.9zM529.1 152.1l.2 .4-.2 .2-2.4-.2zM526.7 152.5l.7 1-.7 .1-.4-.1zM555.5 153.1l1 .1 1-.2 .7 .5-.3 1 .6 1-.3 1-1.7 1.1-1-.1-.4-1 .2-2-.2-1zM600.5 153.1l.4 .4-.6 0zM565.5 153.6l3 1.9 .1 1-.1 .6-1-.2-1-2-1 .1-.4-.5zM594.5 154.1l1 .1 .9 1.3-.9 .9-1.4-1.9zM523.6 157.3l2.1 .2 1.1 1-3.2 .8-3-.8 .3-1zM565.5 157.5l1-.1 1 .4 1 .1 1 .5 .8 .1-.8 1.9-1-1.4-.8 1.5-.1 3-1.4 1 .3 .5 .5 1.5-1.5 .4-1.1 .6-.6-1-.3-1 .4-1 1.5-1-.4-3-.5-.2-.4 .2-.9 1 .3 1-1-.3-.8-1.7 .8-1.2 .9-.8 1.1-.8 1-.2zM570.5 157.3l.2 .2-.2 .9-.1-.9zM596.5 158.3l.3 .2 .3 1-.6 .7-1 0-.2-.7 .9-1zM601.5 158l.3 .5-.3 .2-.3-.2zM531 160.2l.5 .3-.5 .3-.8-.3zM536.5 160.1l.8 .4-.7 1-.2 0-.3-1zM555.5 160.3l2-.1 1 .4 1 .9 1.1 2-.1 .3-.8-.3-1.2-.1-.8-.9-.2-1.2-1-.5-1 .2-.3-.5zM571.5 160.8l1 .3 .4 .4 1.6 .5 .5 .5-.5 1-1 .5-.2 .5 1.2 1.9 1-.7 1 .6 .7 .2-.7 .6-.2 .4-1.8 1.2-1-.4-1 .6-1-.3-1-.6-.5-.5 0-1 .5-.4 1-.2 .2 .6 .8 .5 .4-.5-.4-.8-1-.3-.4-.9 .3-1-.4-2zM531 163.1l.1 .4-.1 .2-.5-.2zM541.5 164.3l1-.3 .4 .5 .2 1-.6 .8-.7-.8-.4-1zM561.5 164.1l1 .1 .4 .3-.4 .7-1.6-.7zM519.5 166.5l4.1 .4 .6 .6-4.4 1 .2 1 6.7 1.5 .8 .5-.3 1-.5 .5-.5-.5-7.5-1-2.4-1-2.1-.3-2.9-.7-1.1-1 1.6-1 2.4-1 5.1 0zM568.5 167.4l.4 .1-.4 .8-.1-.8zM557.5 169.1l.3 .4-.3 .6-.5-.6zM570.5 169.4l0 1.2-.3-.1 .2-1zM539.5 175.2l.2 .3-.2 .4-.1-.4zM590.5 179.3l.3 .2 .1 1-1.4 .7-.3-.7 1.1-1zM559.5 183.8l.6 .7-.6 .8-.7-.8zM545.5 186.2l1-.1 .3 .4-1.3 .1-.2-.1zM561.5 187.4l0 .2-.1-.1zM551.5 190.3l.3 1.2-.3 1.1-1 2.1-1 .3-.5-.5 .5-1.7 1-1.7 .8-.6zM553.5 194.1l.7 .4 .3 1.9 0 5.1-1 .7-1-1.2-.7-1.5 .5-2.8 .9-2.2zM569.5 198.9l1-.7 .6 1.3-.6 2.8-1.1-2.8zM486.7 238.4l6 8.3-1.5 17.8-19.7 0 0-24.9zM519.5 261l4.1-3.2 3.1-1.4 2.4-.7 1.9 1.1 1.4 1.8 1.1 1 1 .4 1 .8 2 2.5 1.5 1.2-22.5 0z"/>
<path fill="#4ec36b" fill-rule="evenodd" d="M644.8 85.9l1.2 .4 1.5 4.7-2.7 1.1-1-1.1 .6-4.7zM562.5 90.9l.4 .1-.4 .9 0-.9zM564.5 89.6l1-1.3 1-.3 1 3-.1 3.7-.3 2.7-.6 2.2-1 .3-1 1.1-1 .4-1 1.2-1-1.2-.4-1.8 .4-1.5 .6-.7 .4-1.6 1.8-1.1-.6-3.7zM595.5 97.2l1-.5 .6 .7 .2 2.2-.2 1.6-.6 .9-1-2.5-.2-2.2zM607.5 102.4l.9 2.1-.9 .8-1.2-.8 .2-1.1 .9-.9zM601.5 103.2l1-.1 1 .4-1 1.2-1 .6-.6-.8 .1-1zM616.5 104.4l3-.8 1 .2 1.3 1.7 .2 1 0 1 .5 .3 1 .1 .3 .6-.3 .8-2 .6-.9-.4-.2-2-.9-.6-1.5 .6 .5 .4 .2 .6-1 0-.2-.3-1.3-.7 1.3-.6 .1-.4-.3-1-1-1zM610.5 105.2l2-.2 .9 .5 .1 2-1 .4-.6-.4-.4-.8-1-.9-.6-.3zM555.5 106l.8 .5 .2 1-1 .8-.7-.8 .2-1zM614.5 107.4l.1 .1-.1 0-.6 0zM586.5 109.2l.5 .3-.5 .5-.4-.5zM555.5 109.8l.8 .7-.8 .9-.5-.9zM623.5 109.9l.2 .6-.2 .1-.2-.1zM537.5 111.4l1 .2 1.2 1.9 .8 .6 .3 .4-.3 .5-1 .2-1-.8-1-.4-.4-.5-.4-1 .1-1zM552.5 112l1-.2 1 .3 1 1.5 1-.6 1 .3 .4 .2-.8 1 .4 .6 1 .4 1 .1 1-1.1 1 .7 .2 .3-1.2 2.3-1 .1-1-.2-1 .2-2-1.8-2-.8-1-.8-.5-1 0-1zM644.8 113.3l2.1 1.2-.4 1-2.2 0-1.3-1 1.4-1zM541.5 115.8l.4 .7-.4 .5-.4-.5zM587.5 118l.3 .5-.3 .8-.9-.8zM546.5 120.3l1-.2 1 .1 .2 .3-2.2 2.8-1-.4-.3-.4 .3-.2 .8-1.8zM597.5 121l1 .5-1 .5-.3-.5zM568.5 122.4l1-.5 1 .1 .6 .5-.1 1-.5 .7-1 .1-2 .9-1 .1-.6-.8 .3-1 1.3-.8 .8-.2zM544.5 123l.5 .5-.5 .2-.6-.2zM548.5 124.4l.2 .1 .1 1-.3 .4-1 .1-.4-.5 1.2-1zM629.9 124l2.4 .1 .7 .4 .8 1 2.5 1 3.6 1-4 1-3.6 .4-.4 .6-1.2 1-2.2 1 1.7 1 5.2 1.4 4.1 0 2.5-.4 2.5-1 .3-.5 8.7 2.5-1.9 1-6.8 1.5-1.1 .5-1.1 1-.6 1 1.3 1 1.5 .9 3.7 1.1 0 1-2.1 1-.1 1 .2 1-1.7 .2-5.3-.1-1.2 .9 1.2 1 11.1 1-.3 1 6.5 1-.8 1 1.5 1-.1 1 1.2 1-6.9 .9-6.9-.2-2.3-.7-.9-1 .2-1 2.2-1-4.5-.6-3.8 .6 1.4 1-1.9 2 4.3 1.2 5.3 .7 1.8 1.1-.9 1-.9 .2-2 .8 2 .7 12 1.3 2.3 1 .6 1 1 .2 13.1 .8-1.5 .6-.2 .4 .2 .1 15.2 .8 0 97.1-73.9 0-1.1-4-1-2.8-4-7.3-1.8-3.7-1.2-.9-1 .2-1-.6-1-1.4-1-2.1-1-2.9-1-1.7-1 0-2 2.8-1 .7-2-2.9-1-.9-1-3.7-1 1.8-1-.6-1 2.5-1 1.2-1-1.3-2-3.5-1 1.5-1-1.1-.4-.9 1.3-10.5 .1-.2 .1 .2 .9 9.2 1-5.2 .4-4 .6-3.4 1-3.6 1 2.9 1 1.3 1-3.2 1-9.4 1 2 .3-1 .7-4.9 .5 4.9 .5 1.3 1 1.7 .7-3 .1-4.8 .9-3.7-.7-1.6-1-1.2-1 2.9 0-2.9 1-.1 .5-2.1 2.2-3-.3-1-.4-.2-1 .4-.7-.2 .7-2 0-2-1-.6-1-1.3-1.1-.1 1.1-.3 1-2.8 .6 1.1 1.4 1 1-.4 1-.9 1-.4 1 1.1 2 .9 .7 1.7 1.3 1.3 .3-.3 .4-1-.1-1-.7-2-1-1 .3-1-.9-1 .5-1-.1-1-1.1-1-.2-1 .6-.6 1 .3 1-.3 1 .2 1 1.8 1 .6-.7 1 .7 .6 1-.1 1 .5-.1 1-.9 .6-1 .2 0 .3 2 .4 1-.5 1-1.1 1-.2 1.1 .3 .1 2-.2 .2-1-.9-1 .3-.6 .4 .1 1 1.7 1-.9 1 .7 1.2 2 1 1.2-1.2 .1-1 .7-1.1 2 1 1 .7 2-1.1 .8-.5-.1-1 .3-.6 1-.3 1 .3 .3-.4-.5-1 .3-1 .9-.5 1.1 0 1.4-1.5 .4-1 0-1-.4-1.2-2.5 .4-1 .5-.2 .3-.2 1-.6 .5-2 .1-2-.5-1-.6-1-.2 0-.6 1-.4 1-1.3 0-1-1-3 .4-2 0-1-.4-.2-.6-.8-.3-1 1.5-1 1.4-.2 1-.7 .1-1.1-.4-1-.7-.4-1 .1-1 .4-1 .1-1-.4-.6-.8 1.3-2 .4-1 .7-1 3.2-.6 2-1.8 2-.9 2.5 .1 1.9-.1 1.5-.7-2-1-.1-1 1.2-1-2.5-2.9-1.4-.4-1.1 .7-.4 .6-2 1-.4 1 .3 1-.5 .5-1 0-1 .4-1-.4-.5-.5 .5-.5 1 .2 1-.2 .7-.5 0-1-.7-.4-1-1.3-1 0-.9 .7-.1 .4-1-1.8-.6 1.4 .8 1-1.2 .9-.8 .1 .8 .7 .7 1.3-.7 .8-1 .5-1 0-.6-1.3-.1-1-.3-.6-1 .2-1-.1-.5-.5 0-1-.2-1 .7-1 2.6 3 .4 .2 .9-.2-.1-2-1-3-1.5-1 .3-1 .6-1 .1-1 1.7-2.3 1.5-1.7 .2-2 .3-.2 1-.1 .4 .3 .6 1.3 .6-.3 .2-1-.6-1 .1-2-.4-1 .1-.3 3-.7 .8-1 .1-1-.3-1 .4-1 .7 1-.4 1 .7 .8 .7-.8 .3-.7 1.1-.1 1.4 .4 1.9-.2 .9-.4-1.6-2zM623.5 134.5l-.8 1-.9 2-.2 2-.4 1 .3 .4 1 .3 .9-.7 1.1-.4 .7-.6-.2-1-.8-1 1.8-2-.4-1-1.1-.9zM614.5 143.5l0 .1 .5-.1-.5 0zM615.3 144.5l.3 0-.1-.5zM618.3 145.5l.2 .2 0-.3zM628.7 164.5l1.2 .4 2.4-.4-2.4-.2zM627.7 170.5l.3 .8 .4-.8-.4-.2zM626.6 171.5l.5 0-.5 0zM623.3 172.5l.2 .2 .4-.2-.4-.2zM625.3 174.5l.2 .4 .2-.4-.2-.1zM609.3 186.5l.4 0-.2-.2zM666.6 186.5l.2 1-1.2 1-4.9 1.4-8.1 2.9 .3 1.7-1.2 .5-2.3 1.7-.5 2.8 2.8 4.4 5.6 4.1 3.4 1.3 2-1.3 5.3-4.8 6-3.7 2.5-2.8-.2-2.2 .5-4-.2-1-.6-1-.3-1-1.3-1-2.1-.8zM606.1 188.5l.4 .4 .2-.4-.2-.3zM598.1 192.8l.1 1.7 .3 .6 1-.1 .2-.5-.2-1.7-1-1.2zM560.5 128.7l1 .4 .5 .4-.5 1-1-.3-.6-.7zM573.5 129.5l2 .8 1-.2 1-1 2 2.2 .3 .2-.1 1 .8 .9 1 1 1.3 .1 .2 1-.5 .4-1 .2-1 .4-1 .9-2-.9-1-.8-3-.3-1-.4-.3-.5 .4-1 0-1-.4-1-.9-1 .2-.5 1 .2 .9-.7zM562.5 131.4l1-.3 2 1.4 .7 1-.2 1-.5 .6-1 .6-1-1-1-.2-.6-1 0-1 .6-1zM583.5 133.4l0 .5-.1-.4zM615.5 135.3l.1 .2-.1 .2-.4-.2zM598.5 137.3l.5 .2-.5 .5-.3-.5zM537.5 138.4l.1 .1-.1 .1 0-.1zM599.5 138.1l1-.1 1 .7 .4 .8-.4 .5-1-.1-1-1.2-.5-.2zM601.5 141.4l.5 1.1 .9 1 .6 .6 1.1 .4-.1 .4-1 .2-2.2-.6-.7-1 .8-2zM611.5 159l.3 .5-.3 .3-.9-.3zM588.5 161.1l1.5 .4 1.5 .9 .1 1.1-.1 .2-1 .2-2 1.2-1.1-.6-.7-1 .8-1.6 .6-.4zM600.5 161.5l.4 1-1.3 2-1.1-.6-1 .6 .2-2 .8-.4 1 0 1-.6zM611.5 161.7l1 .2 .7 .6-.7 .3-1.2-.3zM601.5 165.5l1.3 2-.3 .6-1 .2-.5-.8 .5-2zM616.5 165.3l.5 .2-.7 0zM595.5 166.4l1-.6 .6 .7-.6 .6-1.1-.6zM598.5 167l.5 .5-.5 .5-.4-.5zM591.5 169.4l1.3 1.1-.3 .5-1 .2-.2-.7 .2-1zM604.5 170.2l.7 .3-.4 1 .1 1-.4 .8-.7-.8 .4-1 0-1zM613.5 170.6l.7 .9-.7 .4-.8-.4zM591.5 172l1-.1 1 .4 .2 .2-.1 1-1.1-.7-1.1-.3zM583.5 181.5l.2 0-.2 .9-1 .5 0-1 .3-.4zM529.1 183.5l1.2 1 .6 1-1.8 .7-5-.7 3.7-1 1.2-1zM536.5 183.2l.9 .3 1.2 1-.1 .2-1 .5-.8 1.3-1.2-.1-.1-.9 .5-2zM583.5 185.2l.1 .3-.1 .6-.1-.6zM581.5 185.8l1 .6 1 .3 .6 .8 .4 1-1 .1-1 1.1-1.6-2.2 .4-1zM586.5 191.3l.4 .2 .1 1.3-2.5 2.1-.2-.4 .1-1.7 1.7-1.3zM589.5 191.5l0 .4-.3-.4zM532.4 194l2.1-1 .7 1.5-1.3 2.2-1.4 2.8-.1 1.5-.3-1.5-1.1-1.8-1-1 1-.9 .6-1.3zM545.5 194.3l.2 .2-.2 .3-.3-.3zM523.6 210.7l3.1 1.1 2.4-2.2 1.9 .5 1.4 2.1 1.1-.4 .4 2.5-.4 1-1.1 .2-1.4 1.3-1.9 1-2.4-1.6-3.1 1.3-3.3-3.2z"/>
<path fill="#90d743" fill-rule="evenodd" d="M629.9 135.1l1.4 .4-1.4 .8-.6-.8zM629.9 141.2l1.1 .3-1.1 .3-.7-.3zM625.5 142.1l.5 .4-.5 .4-.3-.4zM635.4 142.4l4.1-.1 .6 .2 .3 1-.9 .2-2-.2-2.8-1zM622.5 146.3l.4 .2-.4 .1-.1-.1zM623.5 159.5l.6 1-.6 1-.5-1zM651.7 166.4l9 1.4 6.2 1.7 1.4 1 .2 1-.3 1-1.2 1-2.3 1-4 1-9-.6-5.2-2.4-.2-1-1-1 1.8-2-1.8-1 1.8-1zM632.3 175.9l3.1-.1 2.4 .7 1.7 .8 1.3 1.2 0 1-1.3 1.6-1.3 .4-2.3 1-.1 1-2.5 2 .3 2-.3 1-1 1.9-.9 1.1-1.5 1.4-1.9 .2-2.5-1.7-2-2.1-.9-1.8 .5-1 1.4-.3 1 .3 1-1 .4-1 1-1 .1-.4 .8-.6 .4-1-.2-1 .7-1 1.9-1 .6-1-.4-1zM599.5 183.5l.5 1-.5 .8-1-.8 .9-1zM601.5 185.4l1.8 2.1 .5 1-.4 2 1.7 2.3 .1 1.7-.4 2.2-.1 2.8-.2 1.2-1 1.3-.3-2.5-1.3-5-.4-2.4-.3-.6-.7-.2-3.5-1.8-.3-1 .4-1 1.4-1.8 1 0 1 .9 .8-1.1zM609.5 194.2l1 1.4 1-.1 1-.8 1-.2 1.8 2.2-.4 2.8-2.4 3.9-1 1.1-1-.1-1.6-1.2-1.4-.8-.7-2.9 .6-2.8 1.1-1.1 .8-1.1zM609.5 222.1l2-1 2-.6 4-.9 3-.4 14.9 0 4.1 .7 4.1 2.5-3 10.5-1.1 1.8-4.1 1.2-5.5-2.4-1.9-.4-6.5-.1-2 .3-5 1.6-3 .4-1-.4-1.9-2 .4-10.5zM651.7 218.3l9 3.2 1.5 .9-1.5 7.1-1 3.4-8 5.2-3.5-5.2-2.6-10.5z"/>
<path fill="#dae319" fill-rule="evenodd" d="M599.5 187.8l2 .4 .3 .3 0 1-.3 .3-1 0-1-.5-.9-.8z"/>
<rect x="472.0" y="263.3" width="215" height="0.7" fill="#fff" opacity="0.45"/>
</g>
<rect x="471.5" y="48.5" width="216" height="216" fill="none" stroke="#000" stroke-width="1.11"/>
<text x="240.5" y="39.5" text-anchor="middle" font-size="16.67">Exner pressure</text>
<text x="578.5" y="39.5" text-anchor="middle" font-size="16.67">Air temperature</text>
<rect x="100.50" y="310.50" width="31.63" height="14.00" fill="#481668"/>
<rect x="131.83" y="310.50" width="31.63" height="14.00" fill="#443983"/>
<rect x="163.17" y="310.50" width="31.63" height="14.00" fill="#375a8c"/>
<rect x="194.50" y="310.50" width="31.63" height="14.00" fill="#2b758e"/>
<rect x="225.83" y="310.50" width="31.63" height="14.00" fill="#21918c"/>
<rect x="257.17" y="310.50" width="31.63" height="14.00" fill="#25ab82"/>
<rect x="288.50" y="310.50" width="31.63" height="14.00" fill="#4ec36b"/>
<rect x="319.83" y="310.50" width="31.63" height="14.00" fill="#90d743"/>
<rect x="351.17" y="310.50" width="31.63" height="14.00" fill="#dae319"/>
<line x1="131.83" y1="310.50" x2="131.83" y2="324.50" stroke="#000" stroke-width="0.95"/>
<line x1="163.17" y1="310.50" x2="163.17" y2="324.50" stroke="#000" stroke-width="0.95"/>
<line x1="194.50" y1="310.50" x2="194.50" y2="324.50" stroke="#000" stroke-width="0.95"/>
<line x1="225.83" y1="310.50" x2="225.83" y2="324.50" stroke="#000" stroke-width="0.95"/>
<line x1="257.17" y1="310.50" x2="257.17" y2="324.50" stroke="#000" stroke-width="0.95"/>
<line x1="288.50" y1="310.50" x2="288.50" y2="324.50" stroke="#000" stroke-width="0.95"/>
<line x1="319.83" y1="310.50" x2="319.83" y2="324.50" stroke="#000" stroke-width="0.95"/>
<line x1="351.17" y1="310.50" x2="351.17" y2="324.50" stroke="#000" stroke-width="0.95"/>
<rect x="100.50" y="310.50" width="282.00" height="14.00" fill="none" stroke="#000" stroke-width="1.11"/>
<text x="100.40" y="340.10" text-anchor="middle" font-size="13.89" letter-spacing="-0.15">0.984</text>
<text x="183.96" y="340.10" text-anchor="middle" font-size="13.89" letter-spacing="-0.15">0.992</text>
<text x="267.51" y="340.10" text-anchor="middle" font-size="13.89" letter-spacing="-0.15">1.000</text>
<text x="351.07" y="340.10" text-anchor="middle" font-size="13.89" letter-spacing="-0.15">1.008</text>
<rect x="438.50" y="310.50" width="31.63" height="14.00" fill="#481668"/>
<rect x="469.83" y="310.50" width="31.63" height="14.00" fill="#443983"/>
<rect x="501.17" y="310.50" width="31.63" height="14.00" fill="#375a8c"/>
<rect x="532.50" y="310.50" width="31.63" height="14.00" fill="#2b758e"/>
<rect x="563.83" y="310.50" width="31.63" height="14.00" fill="#21918c"/>
<rect x="595.17" y="310.50" width="31.63" height="14.00" fill="#25ab82"/>
<rect x="626.50" y="310.50" width="31.63" height="14.00" fill="#4ec36b"/>
<rect x="657.83" y="310.50" width="31.63" height="14.00" fill="#90d743"/>
<rect x="689.17" y="310.50" width="31.63" height="14.00" fill="#dae319"/>
<line x1="469.83" y1="310.50" x2="469.83" y2="324.50" stroke="#000" stroke-width="0.95"/>
<line x1="501.17" y1="310.50" x2="501.17" y2="324.50" stroke="#000" stroke-width="0.95"/>
<line x1="532.50" y1="310.50" x2="532.50" y2="324.50" stroke="#000" stroke-width="0.95"/>
<line x1="563.83" y1="310.50" x2="563.83" y2="324.50" stroke="#000" stroke-width="0.95"/>
<line x1="595.17" y1="310.50" x2="595.17" y2="324.50" stroke="#000" stroke-width="0.95"/>
<line x1="626.50" y1="310.50" x2="626.50" y2="324.50" stroke="#000" stroke-width="0.95"/>
<line x1="657.83" y1="310.50" x2="657.83" y2="324.50" stroke="#000" stroke-width="0.95"/>
<line x1="689.17" y1="310.50" x2="689.17" y2="324.50" stroke="#000" stroke-width="0.95"/>
<rect x="438.50" y="310.50" width="282.00" height="14.00" fill="none" stroke="#000" stroke-width="1.11"/>
<text x="501.07" y="340.10" text-anchor="middle" font-size="13.89" letter-spacing="-0.15">280.0</text>
<text x="579.40" y="340.10" text-anchor="middle" font-size="13.89" letter-spacing="-0.15">282.5</text>
<text x="657.73" y="340.10" text-anchor="middle" font-size="13.89" letter-spacing="-0.15">285.0</text>
<text x="579.50" y="359.40" text-anchor="middle" font-size="13.89">K</text>
</svg>
</body></html>
